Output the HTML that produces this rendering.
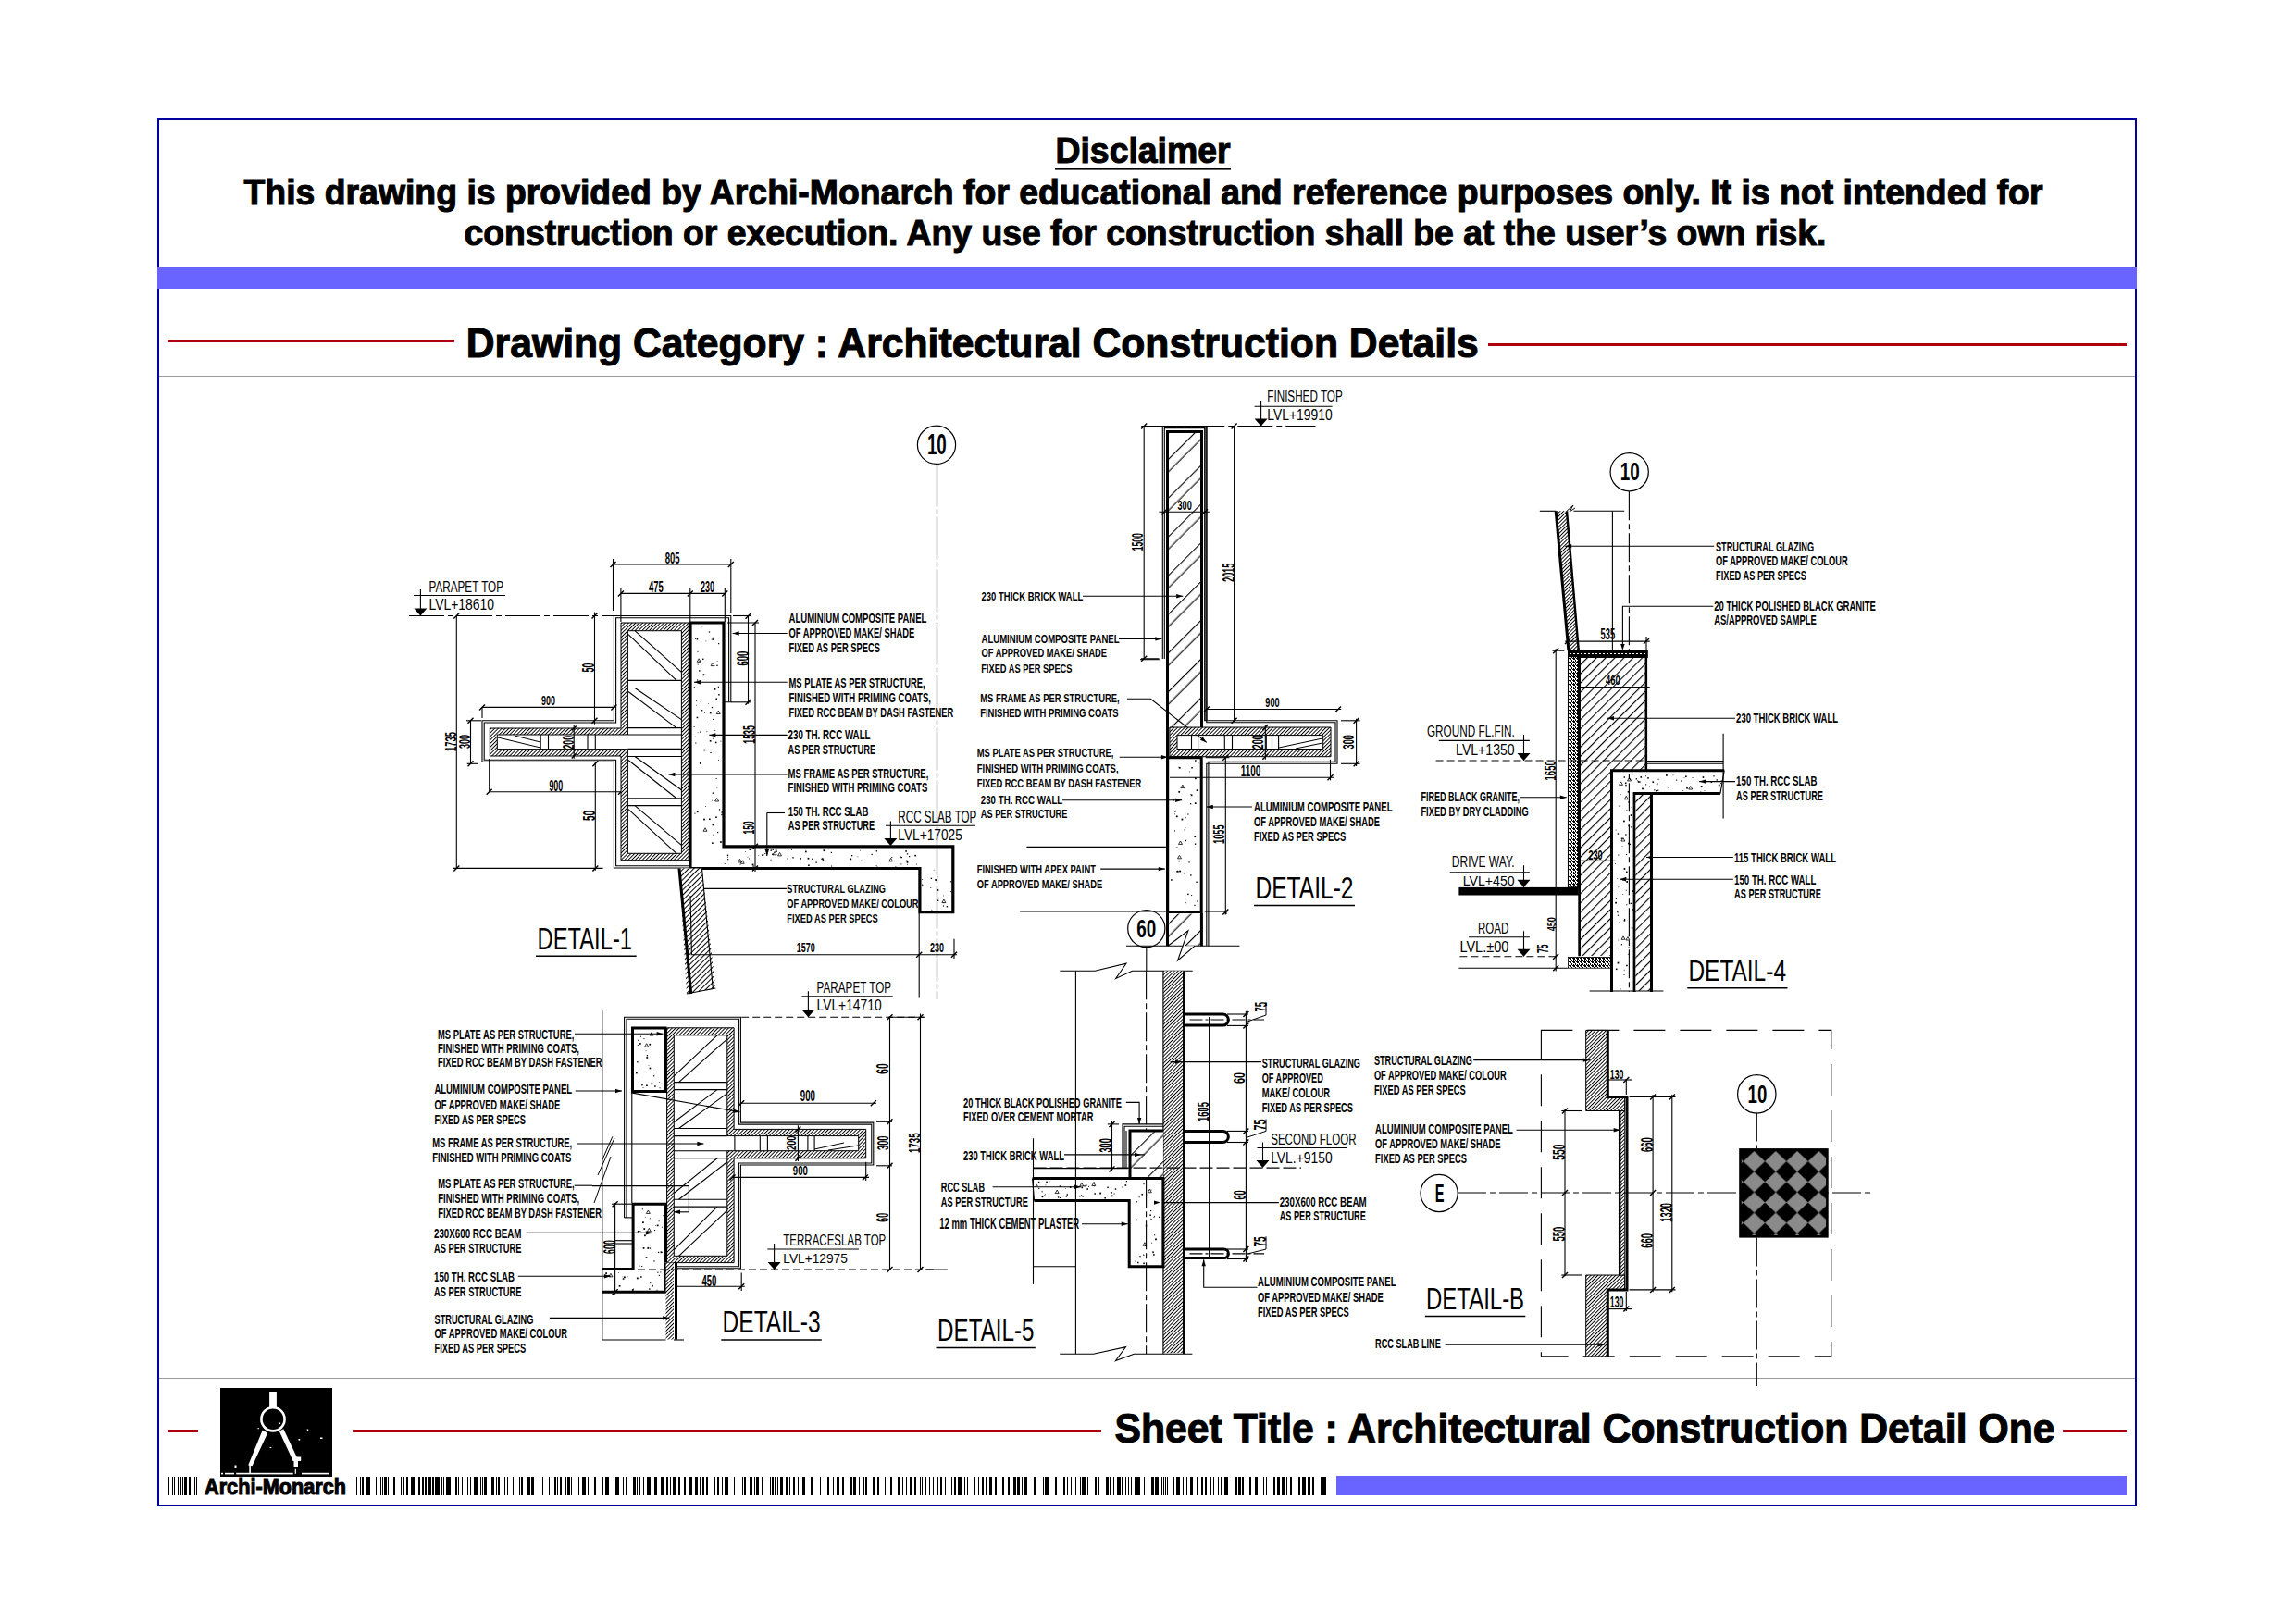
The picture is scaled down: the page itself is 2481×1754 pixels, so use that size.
<!DOCTYPE html>
<html><head><meta charset="utf-8">
<style>
html,body{margin:0;padding:0;background:#fff;width:2481px;height:1754px;overflow:hidden}
svg{position:absolute;left:0;top:0}
.b{font-family:"Liberation Sans",sans-serif;font-weight:bold;fill:#000;stroke:#000;stroke-width:1.1px}
.t{font-family:"Liberation Sans",sans-serif;fill:#000}
.r{font-family:"Liberation Sans",sans-serif;fill:#000}
</style></head><body>
<svg width="2481" height="1754" viewBox="0 0 2481 1754">
<defs>
<pattern id="h3" patternUnits="userSpaceOnUse" width="2.7" height="2.7" patternTransform="rotate(45)"><rect width="2.7" height="2.7" fill="#fff"/><rect x="0" y="0" width="0.95" height="2.7" fill="#000"/></pattern>
<pattern id="h4" patternUnits="userSpaceOnUse" width="3.9" height="3.9" patternTransform="rotate(45)"><rect width="3.9" height="3.9" fill="#fff"/><rect x="0" y="0" width="1" height="3.9" fill="#000"/></pattern>
<pattern id="h5" patternUnits="userSpaceOnUse" width="6" height="6" patternTransform="rotate(45)"><rect width="6" height="6" fill="#fff"/><rect x="0" y="0" width="1" height="6" fill="#000"/></pattern>
<pattern id="hb" patternUnits="userSpaceOnUse" width="29.6" height="29.6" patternTransform="rotate(45)"><rect width="29.6" height="29.6" fill="#fff"/><rect x="0" y="0" width="1.1" height="29.6" fill="#000"/><rect x="9.5" y="0" width="1.1" height="29.6" fill="#000"/></pattern><pattern id="h7" patternUnits="userSpaceOnUse" width="7" height="7" patternTransform="rotate(45)"><rect width="7" height="7" fill="#fff"/><rect x="0" y="0" width="1.1" height="7" fill="#000"/></pattern><pattern id="stip" patternUnits="userSpaceOnUse" width="4" height="4"><rect width="4" height="4" fill="#fff"/><rect x="0" y="0" width="2" height="1" fill="#000"/><rect x="2" y="1" width="1" height="2" fill="#000"/><rect x="0" y="2" width="1" height="2" fill="#000"/><rect x="3" y="3" width="1" height="1" fill="#000"/><rect x="1" y="3" width="1" height="1" fill="#000"/></pattern>
<pattern id="diam" patternUnits="userSpaceOnUse" x="1883.85" y="1244" width="23.3" height="22.2"><rect width="23.3" height="22.2" fill="#000"/><polygon points="11.65,0 23.3,11.1 11.65,22.2 0,11.1" fill="#8a8a8a"/></pattern>
</defs>
<!-- frame -->
<rect x="171" y="129" width="2137" height="1498" fill="none" stroke="#0000A0" stroke-width="2"/>
<rect x="170" y="289" width="2139" height="23" fill="#6964FF"/>
<!-- header text -->
<text class="b" x="1140.5" y="175.6" font-size="39" textLength="189" lengthAdjust="spacingAndGlyphs">Disclaimer</text>
<rect x="1140" y="182" width="190" height="1.6" fill="#000"/>
<text class="b" x="263.5" y="220.6" font-size="39" textLength="1944" lengthAdjust="spacingAndGlyphs">This drawing is provided by Archi-Monarch for educational and reference purposes only. It is not intended for</text>
<text class="b" x="501.5" y="264.6" font-size="39" textLength="1472" lengthAdjust="spacingAndGlyphs">construction or execution. Any use for construction shall be at the user’s own risk.</text>
<!-- category -->
<rect x="181" y="367" width="310" height="3" fill="#B00010"/>
<rect x="1608" y="371" width="690" height="3" fill="#B00010"/>
<text class="b" x="503.8" y="385.6" font-size="45" textLength="1094" lengthAdjust="spacingAndGlyphs">Drawing Category : Architectural Construction Details</text>
<rect x="172" y="406" width="2135" height="1" fill="#9A9A9A"/>
<!-- footer -->
<rect x="172" y="1489" width="2135" height="1" fill="#9A9A9A"/>
<rect x="181" y="1545" width="33" height="3" fill="#B00010"/>
<rect x="381" y="1545" width="809" height="3" fill="#B00010"/>
<rect x="2229" y="1545" width="69" height="3" fill="#B00010"/>
<text class="b" x="1204.5" y="1558.8" font-size="44" textLength="1016" lengthAdjust="spacingAndGlyphs">Sheet Title : Architectural Construction Detail One</text>
<rect x="1444" y="1595" width="854" height="21" fill="#6964FF"/>
<rect x="238" y="1500" width="121" height="96" fill="#000"/>
<text class="b" x="221" y="1615" font-size="24.7" textLength="153" lengthAdjust="spacingAndGlyphs">Archi-Monarch</text>
<g id="draw" stroke-linecap="butt">
<text class="t" x="463.5" y="639.6" font-size="16.86" font-weight="normal" textLength="80.5" lengthAdjust="spacingAndGlyphs">PARAPET TOP</text>
<line x1="447" y1="643.5" x2="546" y2="643.5" stroke="#000" stroke-width="1.1"/>
<text class="t" x="463.5" y="658.8" font-size="17.14" font-weight="normal" textLength="70.5" lengthAdjust="spacingAndGlyphs">LVL+18610</text>
<line x1="454.4" y1="637" x2="454.4" y2="665" stroke="#000" stroke-width="1.1"/>
<polygon points="454.4,665.5 447.4,657.45 461.4,657.45" fill="#000" stroke="none"/>
<line x1="442" y1="665.5" x2="663.4" y2="665.5" stroke="#000" stroke-width="1.1" stroke-dasharray="38 4 6 4"/>
<line x1="493.3" y1="665.5" x2="493.3" y2="938.4" stroke="#000" stroke-width="1.1"/>
<line x1="490.3" y1="668.5" x2="496.3" y2="662.5" stroke="#000" stroke-width="1.4"/>
<line x1="490.3" y1="941.4" x2="496.3" y2="935.4" stroke="#000" stroke-width="1.4"/>
<text class="t" x="0" y="0" font-size="16.81" font-weight="bold" textLength="21" lengthAdjust="spacingAndGlyphs" transform="translate(493,812) rotate(-90)">1735</text>
<line x1="490" y1="938.4" x2="651.6" y2="938.4" stroke="#000" stroke-width="1.1"/>
<line x1="640.3" y1="941.4" x2="646.3" y2="935.4" stroke="#000" stroke-width="1.4"/>
<line x1="508.5" y1="778.8" x2="508.5" y2="825.3" stroke="#000" stroke-width="1.1"/>
<line x1="505.5" y1="781.8" x2="511.5" y2="775.8" stroke="#000" stroke-width="1.4"/>
<line x1="505.5" y1="828.3" x2="511.5" y2="822.3" stroke="#000" stroke-width="1.4"/>
<line x1="504" y1="778.8" x2="520" y2="778.8" stroke="#000" stroke-width="1.1"/>
<line x1="504.7" y1="825.3" x2="516.7" y2="825.3" stroke="#000" stroke-width="1.1"/>
<text class="t" x="0" y="0" font-size="16.05" font-weight="bold" textLength="15" lengthAdjust="spacingAndGlyphs" transform="translate(507.5,809) rotate(-90)">300</text>
<line x1="642.5" y1="661.5" x2="642.5" y2="782.7" stroke="#000" stroke-width="1.1"/>
<line x1="639.5" y1="668.5" x2="645.5" y2="662.5" stroke="#000" stroke-width="1.4"/>
<line x1="639.5" y1="781.8" x2="645.5" y2="775.8" stroke="#000" stroke-width="1.4"/>
<text class="t" x="0" y="0" font-size="18.34" font-weight="bold" textLength="9.8" lengthAdjust="spacingAndGlyphs" transform="translate(642,726.5) rotate(-90)">50</text>
<line x1="643.3" y1="823.4" x2="643.3" y2="940.8" stroke="#000" stroke-width="1.1"/>
<line x1="640.3" y1="828.3" x2="646.3" y2="822.3" stroke="#000" stroke-width="1.4"/>
<text class="t" x="0" y="0" font-size="18.34" font-weight="bold" textLength="11" lengthAdjust="spacingAndGlyphs" transform="translate(643,887) rotate(-90)">50</text>
<line x1="521" y1="764.4" x2="664.7" y2="764.4" stroke="#000" stroke-width="1.1"/>
<line x1="518" y1="767.4" x2="524" y2="761.4" stroke="#000" stroke-width="1.4"/>
<line x1="660.4" y1="767.4" x2="666.4" y2="761.4" stroke="#000" stroke-width="1.4"/>
<line x1="521" y1="764" x2="521" y2="776" stroke="#000" stroke-width="1.1"/>
<text class="t" x="585" y="762" font-size="15.29" font-weight="bold" textLength="15" lengthAdjust="spacingAndGlyphs">900</text>
<line x1="528.7" y1="855.8" x2="671" y2="855.8" stroke="#000" stroke-width="1.1"/>
<line x1="525.7" y1="858.8" x2="531.7" y2="852.8" stroke="#000" stroke-width="1.4"/>
<line x1="668" y1="858.8" x2="674" y2="852.8" stroke="#000" stroke-width="1.4"/>
<line x1="528.7" y1="820" x2="528.7" y2="856" stroke="#000" stroke-width="1.1"/>
<text class="t" x="593.4" y="854.9" font-size="16.81" font-weight="bold" textLength="14.8" lengthAdjust="spacingAndGlyphs">900</text>
<polyline points="745,938 663.4,938 663.4,823.4 521,823.4 521,778.8 663.4,778.8 663.4,665.5 789.8,665.5 789.8,758.8 782.3,758.8" fill="none" stroke="#000" stroke-width="1.1" stroke-linejoin="miter"/>
<polyline points="745,935.8 665.6,935.8 665.6,821.2 523.2,821.2 523.2,781 665.6,781 665.6,667.7 787.6,667.7 787.6,758.8" fill="none" stroke="#000" stroke-width="1.1" stroke-linejoin="miter"/>
<path fill-rule="evenodd" fill="url(#h3)" stroke="#000" stroke-width="1" d="M744.3,673 L671,673 L671,787 L529.3,787 L529.3,817 L671,817 L671,929.7 L744.3,929.7 Z M736.4,681.7 L678.4,681.7 L678.4,794 L537.3,794 L537.3,809.6 L678.4,809.6 L678.4,922.3 L736.4,922.3 Z"/>
<line x1="678.4" y1="735.4" x2="736.4" y2="735.4" stroke="#000" stroke-width="1.1"/>
<line x1="678.4" y1="743.5" x2="736.4" y2="743.5" stroke="#000" stroke-width="1.1"/>
<line x1="678.4" y1="786.6" x2="736.4" y2="786.6" stroke="#000" stroke-width="1.1"/>
<line x1="678.4" y1="794" x2="736.4" y2="794" stroke="#000" stroke-width="1.1"/>
<line x1="678.4" y1="809.4" x2="736.4" y2="809.4" stroke="#000" stroke-width="1.1"/>
<line x1="678.4" y1="817.5" x2="736.4" y2="817.5" stroke="#000" stroke-width="1.1"/>
<line x1="678.4" y1="862.8" x2="736.4" y2="862.8" stroke="#000" stroke-width="1.1"/>
<line x1="678.4" y1="870.6" x2="736.4" y2="870.6" stroke="#000" stroke-width="1.1"/>
<line x1="584.2" y1="794" x2="584.2" y2="809.6" stroke="#000" stroke-width="1.1"/>
<line x1="592.5" y1="794" x2="592.5" y2="809.6" stroke="#000" stroke-width="1.1"/>
<line x1="635" y1="794" x2="635" y2="809.6" stroke="#000" stroke-width="1.1"/>
<line x1="643.3" y1="794" x2="643.3" y2="809.6" stroke="#000" stroke-width="1.1"/>
<line x1="538" y1="797" x2="584" y2="808" stroke="#000" stroke-width="1"/>
<line x1="556" y1="795" x2="584" y2="802" stroke="#000" stroke-width="1"/>
<text class="t" x="0" y="0" font-size="16.81" font-weight="bold" textLength="14.8" lengthAdjust="spacingAndGlyphs" transform="translate(620,809.6) rotate(-90)">200</text>
<line x1="620.2" y1="783.7" x2="620.2" y2="819.7" stroke="#000" stroke-width="1.1"/>
<line x1="617.7" y1="789.5" x2="622.7" y2="784.5" stroke="#000" stroke-width="1.4"/>
<line x1="617.7" y1="819.5" x2="622.7" y2="814.5" stroke="#000" stroke-width="1.4"/>
<line x1="679" y1="685.7" x2="731" y2="735.4" stroke="#000" stroke-width="1.1"/>
<line x1="686" y1="681.7" x2="736.4" y2="726.4" stroke="#000" stroke-width="1.1"/>
<line x1="679" y1="747.5" x2="731" y2="786.6" stroke="#000" stroke-width="1.1"/>
<line x1="686" y1="743.5" x2="736.4" y2="777.6" stroke="#000" stroke-width="1.1"/>
<line x1="679" y1="821.5" x2="731" y2="862.8" stroke="#000" stroke-width="1.1"/>
<line x1="686" y1="817.5" x2="736.4" y2="853.8" stroke="#000" stroke-width="1.1"/>
<line x1="679" y1="874.6" x2="731" y2="922.3" stroke="#000" stroke-width="1.1"/>
<line x1="686" y1="870.6" x2="736.4" y2="913.3" stroke="#000" stroke-width="1.1"/>
<polygon points="746,673 782,673 782,914.8 1029.8,914.8 1029.8,985.7 993.9,985.7 993.9,938.5 746,938.5" fill="none" stroke="#000" stroke-width="3.2" stroke-linejoin="miter"/>
<rect x="759.04" y="711.6" width="1.42" height="1.42" fill="#000"/>
<rect x="751.25" y="802.47" width="1.11" height="1.11" fill="#000"/>
<rect x="750.8" y="795.75" width="0.76" height="0.76" fill="#000"/>
<rect x="762.44" y="692.49" width="0.82" height="0.82" fill="#000"/>
<rect x="762.16" y="871.14" width="0.85" height="0.85" fill="#000"/>
<rect x="755.92" y="824.07" width="1.74" height="1.74" fill="#000"/>
<rect x="766.89" y="769.62" width="1.77" height="1.77" fill="#000"/>
<rect x="750.44" y="878.6" width="1.03" height="1.03" fill="#000"/>
<rect x="753.47" y="703.8" width="1.05" height="1.05" fill="#000"/>
<rect x="774.3" y="718.65" width="1.35" height="1.35" fill="#000"/>
<rect x="768.81" y="763.89" width="1.31" height="1.31" fill="#000"/>
<rect x="750.95" y="690.07" width="0.94" height="0.94" fill="#000"/>
<rect x="770.09" y="776.91" width="1.06" height="1.06" fill="#000"/>
<rect x="767.15" y="782.95" width="1.04" height="1.04" fill="#000"/>
<rect x="773.63" y="840.96" width="0.98" height="0.98" fill="#000"/>
<rect x="766.81" y="799.95" width="1.67" height="1.67" fill="#000"/>
<rect x="771.61" y="743.95" width="1.78" height="1.78" fill="#000"/>
<rect x="752.66" y="774.68" width="1.54" height="1.54" fill="#000"/>
<rect x="753.71" y="791.4" width="0.76" height="0.76" fill="#000"/>
<rect x="769.71" y="856.44" width="1.34" height="1.34" fill="#000"/>
<rect x="776.14" y="750.04" width="1.47" height="1.47" fill="#000"/>
<rect x="767.43" y="812.86" width="1.21" height="1.21" fill="#000"/>
<rect x="775.04" y="898.94" width="1.23" height="1.23" fill="#000"/>
<rect x="769.59" y="690.32" width="1.48" height="1.48" fill="#000"/>
<rect x="769.06" y="910.37" width="1.61" height="1.61" fill="#000"/>
<rect x="757.82" y="767.05" width="1.44" height="1.44" fill="#000"/>
<rect x="749.7" y="784.96" width="0.9" height="0.9" fill="#000"/>
<rect x="752.63" y="689.91" width="1.55" height="1.55" fill="#000"/>
<rect x="753.01" y="734.44" width="1.14" height="1.14" fill="#000"/>
<rect x="776.01" y="695.02" width="1.21" height="1.21" fill="#000"/>
<rect x="766.03" y="884.48" width="1.6" height="1.6" fill="#000"/>
<rect x="775.78" y="741.71" width="1.17" height="1.17" fill="#000"/>
<rect x="760.12" y="884.67" width="1.75" height="1.75" fill="#000"/>
<rect x="753.68" y="717.59" width="0.97" height="0.97" fill="#000"/>
<rect x="756.23" y="790.45" width="1.36" height="1.36" fill="#000"/>
<rect x="757.15" y="676.97" width="1.17" height="1.17" fill="#000"/>
<rect x="760.45" y="809.66" width="1.75" height="1.75" fill="#000"/>
<rect x="770.41" y="797.66" width="1.39" height="1.39" fill="#000"/>
<rect x="769.96" y="688.74" width="1.69" height="1.69" fill="#000"/>
<rect x="773.18" y="882.39" width="1.58" height="1.58" fill="#000"/>
<rect x="761.16" y="770.16" width="0.83" height="0.83" fill="#000"/>
<rect x="768.66" y="690.69" width="0.79" height="0.79" fill="#000"/>
<rect x="755.47" y="714.3" width="1.09" height="1.09" fill="#000"/>
<rect x="750.63" y="676.06" width="0.88" height="0.88" fill="#000"/>
<rect x="752.15" y="761.81" width="0.75" height="0.75" fill="#000"/>
<rect x="776.1" y="820.92" width="0.88" height="0.88" fill="#000"/>
<rect x="756.82" y="757.98" width="1.11" height="1.11" fill="#000"/>
<rect x="752.81" y="876.35" width="1.79" height="1.79" fill="#000"/>
<rect x="763.45" y="790.18" width="0.81" height="0.81" fill="#000"/>
<rect x="752.17" y="756.86" width="1.01" height="1.01" fill="#000"/>
<rect x="774.69" y="714.1" width="0.74" height="0.74" fill="#000"/>
<rect x="778.48" y="800.67" width="0.88" height="0.88" fill="#000"/>
<rect x="765.84" y="682.38" width="1.29" height="1.29" fill="#000"/>
<rect x="779.33" y="879.74" width="1.47" height="1.47" fill="#000"/>
<rect x="757.09" y="762.54" width="0.9" height="0.9" fill="#000"/>
<rect x="772.93" y="801.69" width="1.56" height="1.56" fill="#000"/>
<rect x="759.22" y="728.64" width="1.6" height="1.6" fill="#000"/>
<rect x="779.53" y="877.22" width="1.59" height="1.59" fill="#000"/>
<rect x="774.37" y="850.61" width="0.96" height="0.96" fill="#000"/>
<rect x="765.05" y="759.91" width="0.75" height="0.75" fill="#000"/>
<rect x="749.87" y="741.94" width="1" height="1" fill="#000"/>
<rect x="770.47" y="901.74" width="1.2" height="1.2" fill="#000"/>
<rect x="778.05" y="909.18" width="1.75" height="1.75" fill="#000"/>
<rect x="760.3" y="728.03" width="0.96" height="0.96" fill="#000"/>
<rect x="755.1" y="724.23" width="1.39" height="1.39" fill="#000"/>
<rect x="776.91" y="874.34" width="1.24" height="1.24" fill="#000"/>
<rect x="769.24" y="864.72" width="0.81" height="0.81" fill="#000"/>
<rect x="769.48" y="890.71" width="1.56" height="1.56" fill="#000"/>
<rect x="772.25" y="788.82" width="0.91" height="0.91" fill="#000"/>
<rect x="773.46" y="754.47" width="1.58" height="1.58" fill="#000"/>
<polygon points="776.29,768.04 778.29,771.54 774.29,771.54" fill="none" stroke="#000" stroke-width="0.8"/>
<polygon points="762.03,894.76 764.03,898.26 760.03,898.26" fill="none" stroke="#000" stroke-width="0.8"/>
<polygon points="770.12,716.1 772.12,719.6 768.12,719.6" fill="none" stroke="#000" stroke-width="0.8"/>
<polygon points="755.18,711.76 757.18,715.26 753.18,715.26" fill="none" stroke="#000" stroke-width="0.8"/>
<polygon points="774.62,862.5 776.62,866 772.62,866" fill="none" stroke="#000" stroke-width="0.8"/>
<rect x="812.7" y="933.53" width="1.78" height="1.78" fill="#000"/>
<rect x="920.03" y="924.01" width="1.31" height="1.31" fill="#000"/>
<rect x="809.51" y="917.28" width="1.77" height="1.77" fill="#000"/>
<rect x="918.43" y="927.53" width="1.73" height="1.73" fill="#000"/>
<rect x="873.1" y="934.43" width="1.61" height="1.61" fill="#000"/>
<rect x="826.32" y="922.04" width="1.04" height="1.04" fill="#000"/>
<rect x="832.51" y="928.73" width="1" height="1" fill="#000"/>
<rect x="869.99" y="919.62" width="1.7" height="1.7" fill="#000"/>
<rect x="856.29" y="926.16" width="1.35" height="1.35" fill="#000"/>
<rect x="971.9" y="925.41" width="1.71" height="1.71" fill="#000"/>
<rect x="887.35" y="927.64" width="1.29" height="1.29" fill="#000"/>
<rect x="785.93" y="925.8" width="0.92" height="0.92" fill="#000"/>
<rect x="782.83" y="932.98" width="0.91" height="0.91" fill="#000"/>
<rect x="881.43" y="931.5" width="1.32" height="1.32" fill="#000"/>
<rect x="850.46" y="927.37" width="1.32" height="1.32" fill="#000"/>
<rect x="946.7" y="919.12" width="1.33" height="1.33" fill="#000"/>
<rect x="834.18" y="922.54" width="1.55" height="1.55" fill="#000"/>
<rect x="888.62" y="928.23" width="1.54" height="1.54" fill="#000"/>
<rect x="973.62" y="925.86" width="1.38" height="1.38" fill="#000"/>
<rect x="888.17" y="927.24" width="1.47" height="1.47" fill="#000"/>
<rect x="876.99" y="927.67" width="1.24" height="1.24" fill="#000"/>
<rect x="979.72" y="930.98" width="1.67" height="1.67" fill="#000"/>
<rect x="979.86" y="922.19" width="1.32" height="1.32" fill="#000"/>
<rect x="980.09" y="933.8" width="0.87" height="0.87" fill="#000"/>
<rect x="807.54" y="925.84" width="0.8" height="0.8" fill="#000"/>
<rect x="832.53" y="918.46" width="1.44" height="1.44" fill="#000"/>
<rect x="946.63" y="934.94" width="0.89" height="0.89" fill="#000"/>
<rect x="932.39" y="930.21" width="0.87" height="0.87" fill="#000"/>
<rect x="967.39" y="936.35" width="0.96" height="0.96" fill="#000"/>
<rect x="982.03" y="924.97" width="1.25" height="1.25" fill="#000"/>
<rect x="989.87" y="933.65" width="0.89" height="0.89" fill="#000"/>
<rect x="872.62" y="927.31" width="1.09" height="1.09" fill="#000"/>
<rect x="823.11" y="923.37" width="1.5" height="1.5" fill="#000"/>
<rect x="786.09" y="928.08" width="1.2" height="1.2" fill="#000"/>
<rect x="785.8" y="923.63" width="1.39" height="1.39" fill="#000"/>
<rect x="889.58" y="918.29" width="1.78" height="1.78" fill="#000"/>
<rect x="947.56" y="936.43" width="0.83" height="0.83" fill="#000"/>
<rect x="837.77" y="917.79" width="1.56" height="1.56" fill="#000"/>
<rect x="838.79" y="919.59" width="1.18" height="1.18" fill="#000"/>
<rect x="973.4" y="933.38" width="1" height="1" fill="#000"/>
<rect x="813.37" y="935.38" width="1.34" height="1.34" fill="#000"/>
<rect x="929.09" y="918.79" width="0.78" height="0.78" fill="#000"/>
<rect x="926.52" y="925.51" width="0.8" height="0.8" fill="#000"/>
<rect x="979.05" y="929.69" width="1.59" height="1.59" fill="#000"/>
<rect x="799.59" y="934.12" width="0.79" height="0.79" fill="#000"/>
<rect x="963.18" y="926.08" width="1.09" height="1.09" fill="#000"/>
<rect x="898.14" y="935.53" width="1.01" height="1.01" fill="#000"/>
<rect x="809.14" y="927.54" width="0.98" height="0.98" fill="#000"/>
<rect x="804.98" y="920.23" width="0.77" height="0.77" fill="#000"/>
<rect x="824.37" y="923.24" width="1.05" height="1.05" fill="#000"/>
<rect x="941.49" y="922.8" width="1.26" height="1.26" fill="#000"/>
<rect x="819.36" y="923.94" width="0.74" height="0.74" fill="#000"/>
<rect x="834.59" y="917.31" width="1.51" height="1.51" fill="#000"/>
<rect x="897.72" y="920.79" width="1.23" height="1.23" fill="#000"/>
<rect x="978.27" y="919.13" width="1.6" height="1.6" fill="#000"/>
<rect x="872.76" y="926.9" width="1.62" height="1.62" fill="#000"/>
<rect x="864.55" y="927.13" width="1.46" height="1.46" fill="#000"/>
<rect x="988.31" y="923.85" width="1.62" height="1.62" fill="#000"/>
<rect x="930.41" y="929.72" width="1.16" height="1.16" fill="#000"/>
<rect x="854.99" y="918.09" width="0.86" height="0.86" fill="#000"/>
<polygon points="799.43,928.37 801.43,931.87 797.43,931.87" fill="none" stroke="#000" stroke-width="0.8"/>
<polygon points="837.14,920.29 839.14,923.79 835.14,923.79" fill="none" stroke="#000" stroke-width="0.8"/>
<polygon points="802.23,929.78 804.23,933.28 800.23,933.28" fill="none" stroke="#000" stroke-width="0.8"/>
<polygon points="962.59,927.39 964.59,930.89 960.59,930.89" fill="none" stroke="#000" stroke-width="0.8"/>
<polygon points="842.51,921.39 844.51,924.89 840.51,924.89" fill="none" stroke="#000" stroke-width="0.8"/>
<rect x="1005.38" y="959.13" width="0.89" height="0.89" fill="#000"/>
<rect x="1010.27" y="950.11" width="1.76" height="1.76" fill="#000"/>
<rect x="1027.12" y="963.17" width="0.98" height="0.98" fill="#000"/>
<rect x="1026.9" y="952.24" width="1.11" height="1.11" fill="#000"/>
<rect x="996.03" y="955.55" width="1.23" height="1.23" fill="#000"/>
<rect x="1012.09" y="947.25" width="1.27" height="1.27" fill="#000"/>
<rect x="996.16" y="950.15" width="0.82" height="0.82" fill="#000"/>
<rect x="1008.78" y="939.92" width="0.74" height="0.74" fill="#000"/>
<rect x="1005.74" y="948.71" width="1.35" height="1.35" fill="#000"/>
<rect x="1012.93" y="972.52" width="1.43" height="1.43" fill="#000"/>
<rect x="1018.91" y="978.44" width="1.14" height="1.14" fill="#000"/>
<rect x="1006.44" y="983.3" width="0.88" height="0.88" fill="#000"/>
<rect x="1019.17" y="967.59" width="0.77" height="0.77" fill="#000"/>
<rect x="1022.73" y="979.03" width="1.4" height="1.4" fill="#000"/>
<rect x="1019.48" y="975.36" width="0.87" height="0.87" fill="#000"/>
<rect x="1012.76" y="961.2" width="1.62" height="1.62" fill="#000"/>
<polygon points="1019.92,972.06 1021.92,975.56 1017.92,975.56" fill="none" stroke="#000" stroke-width="0.8"/>
<line x1="662.5" y1="610" x2="789.8" y2="610" stroke="#000" stroke-width="1.1"/>
<line x1="659.5" y1="613" x2="665.5" y2="607" stroke="#000" stroke-width="1.4"/>
<line x1="786.8" y1="613" x2="792.8" y2="607" stroke="#000" stroke-width="1.4"/>
<line x1="662.5" y1="604" x2="662.5" y2="660" stroke="#000" stroke-width="1.1"/>
<line x1="789.8" y1="604" x2="789.8" y2="662" stroke="#000" stroke-width="1.1"/>
<text class="t" x="718.7" y="609" font-size="17.12" font-weight="bold" textLength="15.9" lengthAdjust="spacingAndGlyphs">805</text>
<line x1="670.9" y1="641.4" x2="783.3" y2="641.4" stroke="#000" stroke-width="1.1"/>
<line x1="667.9" y1="644.4" x2="673.9" y2="638.4" stroke="#000" stroke-width="1.4"/>
<line x1="742.8" y1="644.4" x2="748.8" y2="638.4" stroke="#000" stroke-width="1.4"/>
<line x1="780.3" y1="644.4" x2="786.3" y2="638.4" stroke="#000" stroke-width="1.4"/>
<line x1="670.9" y1="636" x2="670.9" y2="672" stroke="#000" stroke-width="1.1"/>
<line x1="745.8" y1="636" x2="745.8" y2="672" stroke="#000" stroke-width="1.1"/>
<line x1="783.3" y1="636" x2="783.3" y2="672" stroke="#000" stroke-width="1.1"/>
<text class="t" x="700.9" y="640" font-size="16.81" font-weight="bold" textLength="15.9" lengthAdjust="spacingAndGlyphs">475</text>
<text class="t" x="757" y="640" font-size="16.81" font-weight="bold" textLength="15" lengthAdjust="spacingAndGlyphs">230</text>
<line x1="808.5" y1="665.8" x2="808.5" y2="760.7" stroke="#000" stroke-width="1.1"/>
<line x1="805.5" y1="668.8" x2="811.5" y2="662.8" stroke="#000" stroke-width="1.4"/>
<line x1="805.5" y1="761.8" x2="811.5" y2="755.8" stroke="#000" stroke-width="1.4"/>
<line x1="792" y1="665.5" x2="812" y2="665.5" stroke="#000" stroke-width="1.1"/>
<line x1="790" y1="758.8" x2="812" y2="758.8" stroke="#000" stroke-width="1.1"/>
<text class="t" x="0" y="0" font-size="19.11" font-weight="bold" textLength="15.9" lengthAdjust="spacingAndGlyphs" transform="translate(808.5,719.5) rotate(-90)">600</text>
<line x1="816" y1="673" x2="816" y2="942" stroke="#000" stroke-width="1.1"/>
<line x1="813" y1="676" x2="819" y2="670" stroke="#000" stroke-width="1.4"/>
<line x1="813" y1="917.8" x2="819" y2="911.8" stroke="#000" stroke-width="1.4"/>
<line x1="813" y1="941.5" x2="819" y2="935.5" stroke="#000" stroke-width="1.4"/>
<line x1="786" y1="673" x2="820" y2="673" stroke="#000" stroke-width="1.1"/>
<text class="t" x="0" y="0" font-size="18.34" font-weight="bold" textLength="19.8" lengthAdjust="spacingAndGlyphs" transform="translate(816,803.8) rotate(-90)">1535</text>
<text class="t" x="0" y="0" font-size="15.9" font-weight="bold" textLength="14.1" lengthAdjust="spacingAndGlyphs" transform="translate(814.8,901.5) rotate(-90)">150</text>
<text class="t" x="852.5" y="673" font-size="14.06" font-weight="bold" textLength="148.9" lengthAdjust="spacingAndGlyphs">ALUMINIUM COMPOSITE PANEL</text>
<text class="t" x="852.5" y="688.6" font-size="14.06" font-weight="bold" textLength="135.8" lengthAdjust="spacingAndGlyphs">OF APPROVED MAKE/ SHADE</text>
<text class="t" x="852.5" y="704.5" font-size="14.06" font-weight="bold" textLength="98.4" lengthAdjust="spacingAndGlyphs">FIXED AS PER SPECS</text>
<line x1="791.7" y1="684.5" x2="850.7" y2="684.5" stroke="#000" stroke-width="1.1"/>
<polygon points="791.7,684.5 798.7,682.3 798.7,686.7" fill="#000" stroke="none"/>
<text class="t" x="852.5" y="743" font-size="14.06" font-weight="bold" textLength="147.1" lengthAdjust="spacingAndGlyphs">MS PLATE AS PER STRUCTURE,</text>
<text class="t" x="852.5" y="758.8" font-size="14.06" font-weight="bold" textLength="153.5" lengthAdjust="spacingAndGlyphs">FINISHED WITH PRIMING COATS,</text>
<text class="t" x="852.5" y="774.8" font-size="14.06" font-weight="bold" textLength="177.9" lengthAdjust="spacingAndGlyphs">FIXED RCC BEAM BY DASH FASTENER</text>
<line x1="750" y1="737.3" x2="850.7" y2="737.3" stroke="#000" stroke-width="1.1"/>
<polygon points="750,737.3 757,735.1 757,739.5" fill="#000" stroke="none"/>
<text class="t" x="851.6" y="798.7" font-size="14.06" font-weight="bold" textLength="89" lengthAdjust="spacingAndGlyphs">230 TH. RCC WALL</text>
<text class="t" x="851.6" y="814.5" font-size="14.06" font-weight="bold" textLength="94.6" lengthAdjust="spacingAndGlyphs">AS PER STRUCTURE</text>
<line x1="766.4" y1="794.4" x2="850.7" y2="794.4" stroke="#000" stroke-width="1.1"/>
<polygon points="766.4,794.4 773.4,792.2 773.4,796.6" fill="#000" stroke="none"/>
<text class="t" x="851.6" y="840.7" font-size="14.06" font-weight="bold" textLength="151.7" lengthAdjust="spacingAndGlyphs">MS FRAME AS PER STRUCTURE,</text>
<text class="t" x="851.6" y="855.8" font-size="14.06" font-weight="bold" textLength="150.7" lengthAdjust="spacingAndGlyphs">FINISHED WITH PRIMING COATS</text>
<line x1="722.4" y1="837" x2="850.7" y2="837" stroke="#000" stroke-width="1.1"/>
<polygon points="722.4,837 729.4,834.8 729.4,839.2" fill="#000" stroke="none"/>
<text class="t" x="851.8" y="881.5" font-size="13.76" font-weight="bold" textLength="86.6" lengthAdjust="spacingAndGlyphs">150 TH. RCC SLAB</text>
<text class="t" x="851.8" y="897" font-size="13.76" font-weight="bold" textLength="93.2" lengthAdjust="spacingAndGlyphs">AS PER STRUCTURE</text>
<line x1="828.8" y1="878.5" x2="828.8" y2="925" stroke="#000" stroke-width="1.1"/>
<line x1="828.8" y1="878.5" x2="848" y2="878.5" stroke="#000" stroke-width="1.1"/>
<polygon points="828.8,925 826.6,918 831,918" fill="#000" stroke="none"/>
<text class="t" x="970.3" y="888.9" font-size="18" font-weight="normal" textLength="85.1" lengthAdjust="spacingAndGlyphs">RCC SLAB TOP</text>
<line x1="957" y1="892.3" x2="1054" y2="892.3" stroke="#000" stroke-width="1.1"/>
<line x1="962.4" y1="887.4" x2="962.4" y2="913.3" stroke="#000" stroke-width="1.1"/>
<polygon points="962.4,914 955.4,905.95 969.4,905.95" fill="#000" stroke="none"/>
<text class="t" x="970.3" y="908.1" font-size="16.86" font-weight="normal" textLength="69.6" lengthAdjust="spacingAndGlyphs">LVL+17025</text>
<text class="t" x="850.3" y="965.1" font-size="13.45" font-weight="bold" textLength="106.7" lengthAdjust="spacingAndGlyphs">STRUCTURAL GLAZING</text>
<text class="t" x="850.3" y="980.7" font-size="13.45" font-weight="bold" textLength="142.2" lengthAdjust="spacingAndGlyphs">OF APPROVED MAKE/ COLOUR</text>
<text class="t" x="850.3" y="997" font-size="13.45" font-weight="bold" textLength="98.5" lengthAdjust="spacingAndGlyphs">FIXED AS PER SPECS</text>
<line x1="743.7" y1="960.4" x2="850.3" y2="960.4" stroke="#000" stroke-width="1.1"/>
<polygon points="743.7,960.4 750.7,958.2 750.7,962.6" fill="#000" stroke="none"/>
<polygon points="734,938.5 758.5,938.5 773.3,1068 742,1074" fill="url(#h4)" stroke="#000" stroke-width="0"/>
<line x1="734" y1="938.5" x2="746.7" y2="1074" stroke="#000" stroke-width="3"/>
<line x1="758.5" y1="938.5" x2="770.3" y2="1068" stroke="#000" stroke-width="1.1"/>
<line x1="746" y1="968" x2="747.4" y2="1031.8" stroke="#000" stroke-width="1.1"/>
<line x1="742" y1="1074" x2="773.3" y2="1068" stroke="#000" stroke-width="1.1"/>
<line x1="746.7" y1="1031.8" x2="1034" y2="1031.8" stroke="#000" stroke-width="1.1"/>
<line x1="990.2" y1="1034.8" x2="996.2" y2="1028.8" stroke="#000" stroke-width="1.4"/>
<line x1="1028" y1="1034.8" x2="1034" y2="1028.8" stroke="#000" stroke-width="1.4"/>
<line x1="993.2" y1="987" x2="993.2" y2="1078.4" stroke="#000" stroke-width="1.1"/>
<line x1="1031" y1="1014.7" x2="1031" y2="1036" stroke="#000" stroke-width="1.1"/>
<text class="t" x="860.7" y="1028.8" font-size="14.98" font-weight="bold" textLength="20" lengthAdjust="spacingAndGlyphs">1570</text>
<text class="t" x="1005" y="1028.8" font-size="14.98" font-weight="bold" textLength="15" lengthAdjust="spacingAndGlyphs">230</text>
<circle cx="1012" cy="480.8" r="20.6" fill="none" stroke="#000" stroke-width="1.2"/>
<text class="t" x="1001.9" y="491" font-size="30.57" font-weight="bold" textLength="20.9" lengthAdjust="spacingAndGlyphs">10</text>
<line x1="1012.5" y1="501.5" x2="1012.5" y2="1080" stroke="#000" stroke-width="1.2" stroke-dasharray="46 3 5 3"/>
<text class="t" x="580.5" y="1025.8" font-size="32.86" font-weight="normal" textLength="102.5" lengthAdjust="spacingAndGlyphs">DETAIL-1</text>
<line x1="579" y1="1033.2" x2="687.7" y2="1033.2" stroke="#000" stroke-width="1.5"/>
<text class="t" x="1369.3" y="433.9" font-size="17.14" font-weight="normal" textLength="81.4" lengthAdjust="spacingAndGlyphs">FINISHED TOP</text>
<line x1="1355.6" y1="439.2" x2="1439.6" y2="439.2" stroke="#000" stroke-width="1.1"/>
<text class="t" x="1369.3" y="453.5" font-size="17.14" font-weight="normal" textLength="70.3" lengthAdjust="spacingAndGlyphs">LVL+19910</text>
<line x1="1362.6" y1="433" x2="1362.6" y2="460" stroke="#000" stroke-width="1.1"/>
<polygon points="1362.6,460.6 1355.6,452.55 1369.6,452.55" fill="#000" stroke="none"/>
<line x1="1233.3" y1="460.6" x2="1421.5" y2="460.6" stroke="#000" stroke-width="1.1" stroke-dasharray="38 4 6 4"/>
<line x1="1236.2" y1="460.6" x2="1236.2" y2="712" stroke="#000" stroke-width="1.1"/>
<line x1="1233.2" y1="463.6" x2="1239.2" y2="457.6" stroke="#000" stroke-width="1.4"/>
<line x1="1233.2" y1="714.8" x2="1239.2" y2="708.8" stroke="#000" stroke-width="1.4"/>
<line x1="1233" y1="711.8" x2="1252.5" y2="711.8" stroke="#000" stroke-width="1.1"/>
<text class="t" x="0" y="0" font-size="16.05" font-weight="bold" textLength="19.1" lengthAdjust="spacingAndGlyphs" transform="translate(1235.3,595.3) rotate(-90)">1500</text>
<line x1="1333.6" y1="460.6" x2="1333.6" y2="780" stroke="#000" stroke-width="1.1"/>
<line x1="1330.6" y1="463.6" x2="1336.6" y2="457.6" stroke="#000" stroke-width="1.4"/>
<line x1="1330.6" y1="781.8" x2="1336.6" y2="775.8" stroke="#000" stroke-width="1.4"/>
<text class="t" x="0" y="0" font-size="17.73" font-weight="bold" textLength="20.1" lengthAdjust="spacingAndGlyphs" transform="translate(1333.6,628.7) rotate(-90)">2015</text>
<polyline points="1256.3,712 1256.3,460.6 1304,460.6 1304,778.8" fill="none" stroke="#000" stroke-width="1.1" stroke-linejoin="miter"/>
<polyline points="1258.3,712 1258.3,462.6 1302,462.6 1302,778.8" fill="none" stroke="#000" stroke-width="1.1" stroke-linejoin="miter"/>
<polygon points="1261.5,466.5 1298.8,466.5 1298.8,786.5 1261.5,786.5" fill="url(#hb)" stroke="#000" stroke-width="0"/>
<polyline points="1261.5,1022 1261.5,466.5 1298.5,466.5 1298.5,786" fill="none" stroke="#000" stroke-width="3" stroke-linejoin="miter"/>
<line x1="1252.4" y1="553.2" x2="1306.9" y2="553.2" stroke="#000" stroke-width="1.1"/>
<line x1="1255" y1="556.2" x2="1261" y2="550.2" stroke="#000" stroke-width="1.4"/>
<line x1="1299" y1="556.2" x2="1305" y2="550.2" stroke="#000" stroke-width="1.4"/>
<text class="t" x="1272.5" y="551.3" font-size="14.52" font-weight="bold" textLength="15.3" lengthAdjust="spacingAndGlyphs">300</text>
<text class="t" x="1060.5" y="648.7" font-size="13.15" font-weight="bold" textLength="109.8" lengthAdjust="spacingAndGlyphs">230 THICK BRICK WALL</text>
<line x1="1170" y1="644.3" x2="1278.2" y2="644.3" stroke="#000" stroke-width="1.1"/>
<polygon points="1278.2,644.3 1271.2,646.5 1271.2,642.1" fill="#000" stroke="none"/>
<text class="t" x="1060.5" y="694.6" font-size="13.15" font-weight="bold" textLength="149" lengthAdjust="spacingAndGlyphs">ALUMINIUM COMPOSITE PANEL</text>
<line x1="1209" y1="690.4" x2="1255.3" y2="690.4" stroke="#000" stroke-width="1.1"/>
<polygon points="1255.3,690.4 1248.3,692.6 1248.3,688.2" fill="#000" stroke="none"/>
<text class="t" x="1060.5" y="710.2" font-size="13.15" font-weight="bold" textLength="135.6" lengthAdjust="spacingAndGlyphs">OF APPROVED MAKE/ SHADE</text>
<text class="t" x="1060.2" y="726.6" font-size="13.15" font-weight="bold" textLength="98.3" lengthAdjust="spacingAndGlyphs">FIXED AS PER SPECS</text>
<line x1="1232" y1="712.7" x2="1252.7" y2="712.7" stroke="#000" stroke-width="1.1"/>
<text class="t" x="1059.2" y="759.4" font-size="13.45" font-weight="bold" textLength="150.5" lengthAdjust="spacingAndGlyphs">MS FRAME AS PER STRUCTURE,</text>
<text class="t" x="1059.2" y="774.7" font-size="13.45" font-weight="bold" textLength="149.4" lengthAdjust="spacingAndGlyphs">FINISHED WITH PRIMING COATS</text>
<polyline points="1217.9,755.3 1243.4,755.3 1303.8,802.4" fill="none" stroke="#000" stroke-width="1.1" stroke-linejoin="miter"/>
<polygon points="1303.8,802.4 1296.93,799.83 1299.63,796.36" fill="#000" stroke="none"/>
<path fill-rule="evenodd" fill="url(#h3)" stroke="#000" stroke-width="1" d="M1263.9,786 L1438,786 L1438,817.7 L1263.9,817.7 Z M1272,794.6 L1429.7,794.6 L1429.7,809.5 L1272,809.5 Z"/>
<line x1="1287.5" y1="794.6" x2="1287.5" y2="809.5" stroke="#000" stroke-width="1.1"/>
<line x1="1294.6" y1="794.6" x2="1294.6" y2="809.5" stroke="#000" stroke-width="1.1"/>
<line x1="1323.3" y1="794.6" x2="1323.3" y2="809.5" stroke="#000" stroke-width="1.1"/>
<line x1="1331.5" y1="794.6" x2="1331.5" y2="809.5" stroke="#000" stroke-width="1.1"/>
<line x1="1368.3" y1="794.6" x2="1368.3" y2="809.5" stroke="#000" stroke-width="1.1"/>
<line x1="1374.5" y1="794.6" x2="1374.5" y2="809.5" stroke="#000" stroke-width="1.1"/>
<line x1="1381.6" y1="794.6" x2="1381.6" y2="809.5" stroke="#000" stroke-width="1.1"/>
<line x1="1382" y1="808" x2="1429" y2="798" stroke="#000" stroke-width="1"/>
<line x1="1400" y1="809" x2="1429" y2="803" stroke="#000" stroke-width="1"/>
<text class="t" x="0" y="0" font-size="15.59" font-weight="bold" textLength="15.5" lengthAdjust="spacingAndGlyphs" transform="translate(1365.2,809.5) rotate(-90)">200</text>
<line x1="1367.3" y1="783" x2="1367.3" y2="820.8" stroke="#000" stroke-width="1.1"/>
<line x1="1364.3" y1="789" x2="1370.3" y2="783" stroke="#000" stroke-width="1.4"/>
<line x1="1364.3" y1="820.7" x2="1370.3" y2="814.7" stroke="#000" stroke-width="1.4"/>
<polyline points="1301.8,460 1301.8,778.8 1445,778.8 1445,825.3 1303.8,825.3 1303.8,1022" fill="none" stroke="#000" stroke-width="1.1" stroke-linejoin="miter"/>
<polyline points="1303.8,462 1303.8,780.8 1443,780.8 1443,823.3 1305.9,823.3 1305.9,1022" fill="none" stroke="#000" stroke-width="1.1" stroke-linejoin="miter"/>
<line x1="1303.8" y1="766.5" x2="1449.2" y2="766.5" stroke="#000" stroke-width="1.1"/>
<line x1="1300.8" y1="769.5" x2="1306.8" y2="763.5" stroke="#000" stroke-width="1.4"/>
<line x1="1443" y1="769.5" x2="1449" y2="763.5" stroke="#000" stroke-width="1.4"/>
<text class="t" x="1367.3" y="763.9" font-size="14.83" font-weight="bold" textLength="15.3" lengthAdjust="spacingAndGlyphs">900</text>
<line x1="1465.6" y1="776.8" x2="1465.6" y2="828" stroke="#000" stroke-width="1.1"/>
<line x1="1462.6" y1="781.8" x2="1468.6" y2="775.8" stroke="#000" stroke-width="1.4"/>
<line x1="1462.6" y1="828.3" x2="1468.6" y2="822.3" stroke="#000" stroke-width="1.4"/>
<line x1="1449" y1="778.8" x2="1469.6" y2="778.8" stroke="#000" stroke-width="1.1"/>
<line x1="1449" y1="825.3" x2="1469.6" y2="825.3" stroke="#000" stroke-width="1.1"/>
<text class="t" x="0" y="0" font-size="16.05" font-weight="bold" textLength="15.5" lengthAdjust="spacingAndGlyphs" transform="translate(1462.5,809.5) rotate(-90)">300</text>
<line x1="1264" y1="840.2" x2="1441" y2="840.2" stroke="#000" stroke-width="1.1"/>
<line x1="1434.5" y1="843.2" x2="1440.5" y2="837.2" stroke="#000" stroke-width="1.4"/>
<line x1="1437.5" y1="820.8" x2="1437.5" y2="843.3" stroke="#000" stroke-width="1.1"/>
<text class="t" x="1340.7" y="839.2" font-size="16.81" font-weight="bold" textLength="21.5" lengthAdjust="spacingAndGlyphs">1100</text>
<polygon points="1261.7,818.7 1298.2,818.7 1298.2,985.5 1261.7,985.5" fill="none" stroke="#000" stroke-width="3" stroke-linejoin="miter"/>
<rect x="1283.11" y="965.64" width="1.46" height="1.46" fill="#000"/>
<rect x="1286.49" y="858.25" width="0.75" height="0.75" fill="#000"/>
<rect x="1269.13" y="879.43" width="0.83" height="0.83" fill="#000"/>
<rect x="1290.91" y="911.48" width="1.4" height="1.4" fill="#000"/>
<rect x="1284.41" y="931.27" width="1.25" height="1.25" fill="#000"/>
<rect x="1265.1" y="950.23" width="1.53" height="1.53" fill="#000"/>
<rect x="1280.59" y="907.7" width="1.43" height="1.43" fill="#000"/>
<rect x="1267.05" y="940.36" width="0.99" height="0.99" fill="#000"/>
<rect x="1267.31" y="864.02" width="1.51" height="1.51" fill="#000"/>
<rect x="1271.36" y="940.85" width="1.77" height="1.77" fill="#000"/>
<rect x="1280.31" y="882.97" width="1.24" height="1.24" fill="#000"/>
<rect x="1286.19" y="945.25" width="1.39" height="1.39" fill="#000"/>
<rect x="1284.93" y="833.55" width="0.88" height="0.88" fill="#000"/>
<rect x="1272.87" y="941.4" width="1.05" height="1.05" fill="#000"/>
<rect x="1282.6" y="823.02" width="0.79" height="0.79" fill="#000"/>
<rect x="1273.33" y="929.86" width="1.47" height="1.47" fill="#000"/>
<rect x="1285.95" y="868.12" width="1.28" height="1.28" fill="#000"/>
<rect x="1279.4" y="896.55" width="0.85" height="0.85" fill="#000"/>
<rect x="1292.7" y="853.28" width="1.78" height="1.78" fill="#000"/>
<rect x="1294.02" y="823.84" width="1.22" height="1.22" fill="#000"/>
<rect x="1290.42" y="977.83" width="1.21" height="1.21" fill="#000"/>
<rect x="1273.33" y="854.99" width="1.74" height="1.74" fill="#000"/>
<rect x="1271.53" y="915.2" width="0.87" height="0.87" fill="#000"/>
<rect x="1281.25" y="975.34" width="0.86" height="0.86" fill="#000"/>
<rect x="1290.43" y="903.42" width="1.68" height="1.68" fill="#000"/>
<rect x="1286.8" y="858.48" width="1.69" height="1.69" fill="#000"/>
<rect x="1280.07" y="825.02" width="0.72" height="0.72" fill="#000"/>
<rect x="1280.24" y="894.02" width="1.05" height="1.05" fill="#000"/>
<rect x="1269.36" y="876.72" width="1.06" height="1.06" fill="#000"/>
<rect x="1291.05" y="821.28" width="1.53" height="1.53" fill="#000"/>
<rect x="1291.01" y="840.45" width="1.72" height="1.72" fill="#000"/>
<rect x="1287.1" y="967.05" width="1.03" height="1.03" fill="#000"/>
<rect x="1276.54" y="884.65" width="1.8" height="1.8" fill="#000"/>
<rect x="1283.26" y="879.43" width="1.18" height="1.18" fill="#000"/>
<rect x="1273.53" y="828.82" width="0.83" height="0.83" fill="#000"/>
<rect x="1290.87" y="867.27" width="1.73" height="1.73" fill="#000"/>
<rect x="1272.73" y="864.05" width="1.27" height="1.27" fill="#000"/>
<rect x="1270.89" y="881.48" width="1.75" height="1.75" fill="#000"/>
<rect x="1292.41" y="952.54" width="1.4" height="1.4" fill="#000"/>
<rect x="1293.32" y="973.39" width="1.31" height="1.31" fill="#000"/>
<rect x="1287.31" y="829.02" width="1.51" height="1.51" fill="#000"/>
<rect x="1278.98" y="942.93" width="1.42" height="1.42" fill="#000"/>
<rect x="1273.87" y="828.93" width="1.72" height="1.72" fill="#000"/>
<rect x="1268.95" y="897.49" width="1.09" height="1.09" fill="#000"/>
<rect x="1274.23" y="940.72" width="1.77" height="1.77" fill="#000"/>
<polygon points="1274.5,924.34 1276.5,927.84 1272.5,927.84" fill="none" stroke="#000" stroke-width="0.8"/>
<polygon points="1275.52,908.94 1277.52,912.44 1273.52,912.44" fill="none" stroke="#000" stroke-width="0.8"/>
<polygon points="1277.86,848.1 1279.86,851.6 1275.86,851.6" fill="none" stroke="#000" stroke-width="0.8"/>
<line x1="1324.3" y1="818.7" x2="1324.3" y2="988.6" stroke="#000" stroke-width="1.1"/>
<line x1="1321.3" y1="821.7" x2="1327.3" y2="815.7" stroke="#000" stroke-width="1.4"/>
<line x1="1321.3" y1="988.5" x2="1327.3" y2="982.5" stroke="#000" stroke-width="1.4"/>
<line x1="1302.8" y1="818.7" x2="1328.4" y2="818.7" stroke="#000" stroke-width="1.1"/>
<line x1="1301.8" y1="985" x2="1326.4" y2="985" stroke="#000" stroke-width="1.1"/>
<text class="t" x="0" y="0" font-size="15.74" font-weight="bold" textLength="20.5" lengthAdjust="spacingAndGlyphs" transform="translate(1323.3,911.9) rotate(-90)">1055</text>
<text class="t" x="1055.7" y="818.3" font-size="13.45" font-weight="bold" textLength="147.8" lengthAdjust="spacingAndGlyphs">MS PLATE AS PER STRUCTURE,</text>
<text class="t" x="1055.7" y="834.5" font-size="13.45" font-weight="bold" textLength="152.9" lengthAdjust="spacingAndGlyphs">FINISHED WITH PRIMING COATS,</text>
<text class="t" x="1055.7" y="850.5" font-size="13.45" font-weight="bold" textLength="177.5" lengthAdjust="spacingAndGlyphs">FIXED RCC BEAM BY DASH FASTENER</text>
<line x1="1209.7" y1="818.3" x2="1261.9" y2="818.3" stroke="#000" stroke-width="1.1"/>
<polygon points="1261.9,818.3 1254.9,820.5 1254.9,816.1" fill="#000" stroke="none"/>
<text class="t" x="1059.8" y="868.9" font-size="13.45" font-weight="bold" textLength="88.5" lengthAdjust="spacingAndGlyphs">230 TH. RCC WALL</text>
<text class="t" x="1059.8" y="884.2" font-size="13.45" font-weight="bold" textLength="93.6" lengthAdjust="spacingAndGlyphs">AS PER STRUCTURE</text>
<line x1="1148" y1="864.8" x2="1277.2" y2="864.8" stroke="#000" stroke-width="1.1"/>
<polygon points="1277.2,864.8 1270.2,867 1270.2,862.6" fill="#000" stroke="none"/>
<line x1="1109.4" y1="915.4" x2="1259.8" y2="915.4" stroke="#000" stroke-width="1.1"/>
<text class="t" x="1055.7" y="943.6" font-size="13.45" font-weight="bold" textLength="128.3" lengthAdjust="spacingAndGlyphs">FINISHED WITH APEX PAINT</text>
<text class="t" x="1055.7" y="959.6" font-size="13.45" font-weight="bold" textLength="135.5" lengthAdjust="spacingAndGlyphs">OF APPROVED MAKE/ SHADE</text>
<line x1="1189.2" y1="939.1" x2="1258.8" y2="939.1" stroke="#000" stroke-width="1.1"/>
<polygon points="1258.8,939.1 1251.8,941.3 1251.8,936.9" fill="#000" stroke="none"/>
<line x1="1102.2" y1="985" x2="1260.9" y2="985" stroke="#000" stroke-width="1.1"/>
<text class="t" x="1355" y="877" font-size="13.76" font-weight="bold" textLength="149.5" lengthAdjust="spacingAndGlyphs">ALUMINIUM COMPOSITE PANEL</text>
<text class="t" x="1355" y="893.4" font-size="13.76" font-weight="bold" textLength="136.1" lengthAdjust="spacingAndGlyphs">OF APPROVED MAKE/ SHADE</text>
<text class="t" x="1355" y="909.2" font-size="13.76" font-weight="bold" textLength="99.3" lengthAdjust="spacingAndGlyphs">FIXED AS PER SPECS</text>
<line x1="1353" y1="872" x2="1303.8" y2="872" stroke="#000" stroke-width="1.1"/>
<polygon points="1303.8,872 1310.8,869.8 1310.8,874.2" fill="#000" stroke="none"/>
<text class="t" x="1356.4" y="970.6" font-size="32.86" font-weight="normal" textLength="106.1" lengthAdjust="spacingAndGlyphs">DETAIL-2</text>
<line x1="1355" y1="978.4" x2="1464" y2="978.4" stroke="#000" stroke-width="1.5"/>
<polygon points="1261.5,987.5 1298.5,987.5 1298.5,1022 1261.5,1022" fill="url(#hb)" stroke="#000" stroke-width="0"/>
<polyline points="1261.5,987 1261.5,1022.2" fill="none" stroke="#000" stroke-width="3" stroke-linejoin="miter"/>
<polyline points="1298.4,987 1298.4,1022.2" fill="none" stroke="#000" stroke-width="3" stroke-linejoin="miter"/>
<line x1="1217" y1="1022.2" x2="1339.5" y2="1022.2" stroke="#000" stroke-width="1.1"/>
<polygon points="1272.6,1038 1283.9,1005.8 1280,1022.2 1291.2,1022.2" fill="#fff" stroke="none"/>
<polyline points="1262,1022.2 1283.9,1005.8 1272.6,1038 1291.2,1022.2" fill="none" stroke="#000" stroke-width="1.1" stroke-linejoin="miter"/>
<circle cx="1238.8" cy="1003.6" r="20.1" fill="none" stroke="#000" stroke-width="1.2"/>
<text class="t" x="1228.3" y="1013" font-size="27.51" font-weight="bold" textLength="21" lengthAdjust="spacingAndGlyphs">60</text>
<line x1="1238.8" y1="1023.5" x2="1238.8" y2="1049.3" stroke="#000" stroke-width="1.1"/>
<line x1="1325" y1="985.6" x2="1325" y2="988" stroke="#000" stroke-width="1.1"/>
<text class="t" x="882.5" y="1072.6" font-size="16.86" font-weight="normal" textLength="80.6" lengthAdjust="spacingAndGlyphs">PARAPET TOP</text>
<line x1="866.4" y1="1076.9" x2="964.7" y2="1076.9" stroke="#000" stroke-width="1.1"/>
<text class="t" x="882.5" y="1092.2" font-size="17.14" font-weight="normal" textLength="70.1" lengthAdjust="spacingAndGlyphs">LVL+14710</text>
<line x1="873.4" y1="1071.3" x2="873.4" y2="1098.7" stroke="#000" stroke-width="1.1"/>
<polygon points="873.4,1099.2 866.4,1091.15 880.4,1091.15" fill="#000" stroke="none"/>
<line x1="801.2" y1="1099.2" x2="998.6" y2="1099.2" stroke="#000" stroke-width="1.1" stroke-dasharray="8 4"/>
<line x1="960" y1="1099.2" x2="998.7" y2="1099.2" stroke="#000" stroke-width="1.1"/>
<line x1="958.5" y1="1102.2" x2="964.5" y2="1096.2" stroke="#000" stroke-width="1.4"/>
<line x1="991.5" y1="1102.2" x2="997.5" y2="1096.2" stroke="#000" stroke-width="1.4"/>
<line x1="961.5" y1="1099.2" x2="961.5" y2="1372" stroke="#000" stroke-width="1.1"/>
<line x1="958.5" y1="1215.3" x2="964.5" y2="1209.3" stroke="#000" stroke-width="1.4"/>
<line x1="958.5" y1="1262.8" x2="964.5" y2="1256.8" stroke="#000" stroke-width="1.4"/>
<line x1="958.5" y1="1375" x2="964.5" y2="1369" stroke="#000" stroke-width="1.4"/>
<line x1="947" y1="1212.3" x2="964" y2="1212.3" stroke="#000" stroke-width="1.1"/>
<line x1="947" y1="1259.8" x2="964" y2="1259.8" stroke="#000" stroke-width="1.1"/>
<text class="t" x="0" y="0" font-size="18.65" font-weight="bold" textLength="11.3" lengthAdjust="spacingAndGlyphs" transform="translate(960,1160.7) rotate(-90)">60</text>
<text class="t" x="0" y="0" font-size="16.2" font-weight="bold" textLength="15.4" lengthAdjust="spacingAndGlyphs" transform="translate(960,1243) rotate(-90)">300</text>
<line x1="994.5" y1="1095.5" x2="994.5" y2="1372" stroke="#000" stroke-width="1.1"/>
<line x1="991.5" y1="1375" x2="997.5" y2="1369" stroke="#000" stroke-width="1.4"/>
<text class="t" x="0" y="0" font-size="15.9" font-weight="bold" textLength="21.7" lengthAdjust="spacingAndGlyphs" transform="translate(993.7,1246.1) rotate(-90)">1735</text>
<text class="t" x="0" y="0" font-size="18.65" font-weight="bold" textLength="9.7" lengthAdjust="spacingAndGlyphs" transform="translate(959.8,1320.7) rotate(-90)">60</text>
<polyline points="674.6,1315.9 674.6,1099.2 800.4,1099.2 800.4,1213.1 943.8,1213.1 943.8,1259 800.4,1259 800.4,1370.7 730.5,1370.7" fill="none" stroke="#000" stroke-width="1.1" stroke-linejoin="miter"/>
<polyline points="677,1315.9 677,1101.3 798.4,1101.3 798.4,1215.1 941.8,1215.1 941.8,1257 798.4,1257 798.4,1368.7 730.5,1368.7" fill="none" stroke="#000" stroke-width="1.1" stroke-linejoin="miter"/>
<line x1="674.6" y1="1315.9" x2="684" y2="1315.9" stroke="#000" stroke-width="1.1"/>
<path fill-rule="evenodd" fill="url(#h3)" stroke="#000" stroke-width="1" d="M720.6,1110.8 L793.1,1110.8 L793.1,1220.4 L935.7,1220.4 L935.7,1251.8 L793.1,1251.8 L793.1,1364.6 L720.6,1364.6 Z M728.3,1118.8 L785.8,1118.8 L785.8,1227.6 L927.7,1227.6 L927.7,1243.7 L785.8,1243.7 L785.8,1357.3 L728.3,1357.3 Z"/>
<line x1="728.3" y1="1169.6" x2="785.8" y2="1169.6" stroke="#000" stroke-width="1.1"/>
<line x1="728.3" y1="1177.6" x2="785.8" y2="1177.6" stroke="#000" stroke-width="1.1"/>
<line x1="728.3" y1="1219.5" x2="785.8" y2="1219.5" stroke="#000" stroke-width="1.1"/>
<line x1="728.3" y1="1227.6" x2="785.8" y2="1227.6" stroke="#000" stroke-width="1.1"/>
<line x1="728.3" y1="1243.7" x2="785.8" y2="1243.7" stroke="#000" stroke-width="1.1"/>
<line x1="728.3" y1="1251.8" x2="785.8" y2="1251.8" stroke="#000" stroke-width="1.1"/>
<line x1="728.3" y1="1296.3" x2="785.8" y2="1296.3" stroke="#000" stroke-width="1.1"/>
<line x1="728.3" y1="1304.1" x2="785.8" y2="1304.1" stroke="#000" stroke-width="1.1"/>
<line x1="793.9" y1="1227.6" x2="793.9" y2="1243.7" stroke="#000" stroke-width="1.1"/>
<line x1="821.3" y1="1227.6" x2="821.3" y2="1243.7" stroke="#000" stroke-width="1.1"/>
<line x1="829.4" y1="1227.6" x2="829.4" y2="1243.7" stroke="#000" stroke-width="1.1"/>
<line x1="872.9" y1="1227.6" x2="872.9" y2="1243.7" stroke="#000" stroke-width="1.1"/>
<line x1="880.1" y1="1227.6" x2="880.1" y2="1243.7" stroke="#000" stroke-width="1.1"/>
<line x1="880" y1="1242" x2="912" y2="1235" stroke="#000" stroke-width="1"/>
<line x1="895" y1="1243" x2="927" y2="1238" stroke="#000" stroke-width="1"/>
<text class="t" x="0" y="0" font-size="14.83" font-weight="bold" textLength="15.4" lengthAdjust="spacingAndGlyphs" transform="translate(860,1243) rotate(-90)">200</text>
<line x1="862.4" y1="1216.3" x2="862.4" y2="1255" stroke="#000" stroke-width="1.1"/>
<line x1="859.4" y1="1223.4" x2="865.4" y2="1217.4" stroke="#000" stroke-width="1.4"/>
<line x1="859.4" y1="1254.8" x2="865.4" y2="1248.8" stroke="#000" stroke-width="1.4"/>
<line x1="728.6" y1="1162.6" x2="775" y2="1118.8" stroke="#000" stroke-width="1.1"/>
<line x1="733.5" y1="1169.6" x2="785.8" y2="1122.8" stroke="#000" stroke-width="1.1"/>
<line x1="728.6" y1="1212.5" x2="775" y2="1177.6" stroke="#000" stroke-width="1.1"/>
<line x1="733.5" y1="1219.5" x2="785.8" y2="1181.6" stroke="#000" stroke-width="1.1"/>
<line x1="728.6" y1="1289.3" x2="775" y2="1251.8" stroke="#000" stroke-width="1.1"/>
<line x1="733.5" y1="1296.3" x2="785.8" y2="1255.8" stroke="#000" stroke-width="1.1"/>
<line x1="728.6" y1="1350.3" x2="775" y2="1304.1" stroke="#000" stroke-width="1.1"/>
<line x1="733.5" y1="1357.3" x2="785.8" y2="1308.1" stroke="#000" stroke-width="1.1"/>
<rect x="683.5" y="1111" width="35.5" height="68.5" fill="none" stroke="#000" stroke-width="3"/>
<rect x="691.01" y="1127.1" width="1.7" height="1.7" fill="#000"/>
<rect x="701.41" y="1127.86" width="1.7" height="1.7" fill="#000"/>
<rect x="716.89" y="1142.35" width="0.87" height="0.87" fill="#000"/>
<rect x="691.96" y="1119.72" width="1.09" height="1.09" fill="#000"/>
<rect x="688.82" y="1129.06" width="1" height="1" fill="#000"/>
<rect x="703.66" y="1169.9" width="1.53" height="1.53" fill="#000"/>
<rect x="698.8" y="1140.07" width="1.29" height="1.29" fill="#000"/>
<rect x="697.68" y="1135.31" width="0.79" height="0.79" fill="#000"/>
<rect x="694.6" y="1174.96" width="0.86" height="0.86" fill="#000"/>
<rect x="701.61" y="1153.67" width="1.65" height="1.65" fill="#000"/>
<rect x="692.69" y="1131.07" width="0.99" height="0.99" fill="#000"/>
<rect x="698.39" y="1142.09" width="1.75" height="1.75" fill="#000"/>
<rect x="712.31" y="1168.99" width="0.74" height="0.74" fill="#000"/>
<rect x="687" y="1158.7" width="1.69" height="1.69" fill="#000"/>
<rect x="700.67" y="1150.99" width="0.72" height="0.72" fill="#000"/>
<rect x="698.14" y="1172.39" width="1.61" height="1.61" fill="#000"/>
<rect x="712.52" y="1175.25" width="0.99" height="0.99" fill="#000"/>
<rect x="689.38" y="1123.73" width="1.28" height="1.28" fill="#000"/>
<rect x="707.14" y="1173.31" width="1.5" height="1.5" fill="#000"/>
<rect x="706.07" y="1162.18" width="1.21" height="1.21" fill="#000"/>
<rect x="703.1" y="1116.49" width="1.56" height="1.56" fill="#000"/>
<rect x="693.21" y="1171.95" width="1.42" height="1.42" fill="#000"/>
<rect x="695.42" y="1122.06" width="0.99" height="0.99" fill="#000"/>
<rect x="705.73" y="1158.01" width="0.84" height="0.84" fill="#000"/>
<rect x="688.18" y="1147.04" width="1.35" height="1.35" fill="#000"/>
<polygon points="698.7,1127.74 700.7,1131.24 696.7,1131.24" fill="none" stroke="#000" stroke-width="0.8"/>
<polygon points="704.03,1115.6 706.03,1119.1 702.03,1119.1" fill="none" stroke="#000" stroke-width="0.8"/>
<line x1="682.8" y1="1180" x2="682.8" y2="1300" stroke="#000" stroke-width="1.1"/>
<line x1="681.9" y1="1180.9" x2="799.5" y2="1201.8" stroke="#000" stroke-width="1.1"/>
<polygon points="799.5,1201.8 792.22,1202.74 792.99,1198.41" fill="#000" stroke="none"/>
<line x1="799.5" y1="1192.2" x2="947" y2="1192.2" stroke="#000" stroke-width="1.1"/>
<line x1="798.2" y1="1195.2" x2="804.2" y2="1189.2" stroke="#000" stroke-width="1.4"/>
<line x1="940.8" y1="1195.2" x2="946.8" y2="1189.2" stroke="#000" stroke-width="1.4"/>
<text class="t" x="864.8" y="1189.7" font-size="15.9" font-weight="bold" textLength="16.2" lengthAdjust="spacingAndGlyphs">900</text>
<line x1="791.5" y1="1272.4" x2="939" y2="1272.4" stroke="#000" stroke-width="1.1"/>
<line x1="788.5" y1="1275.4" x2="794.5" y2="1269.4" stroke="#000" stroke-width="1.4"/>
<line x1="931.9" y1="1275.4" x2="937.9" y2="1269.4" stroke="#000" stroke-width="1.4"/>
<line x1="935.7" y1="1255.8" x2="935.7" y2="1276" stroke="#000" stroke-width="1.1"/>
<text class="t" x="856.8" y="1270.3" font-size="14.83" font-weight="bold" textLength="16.1" lengthAdjust="spacingAndGlyphs">900</text>
<line x1="650.8" y1="1092.3" x2="650.8" y2="1448" stroke="#000" stroke-width="1.1"/>
<text class="t" x="473" y="1122.5" font-size="15.29" font-weight="bold" textLength="147.3" lengthAdjust="spacingAndGlyphs">MS PLATE AS PER STRUCTURE,</text>
<text class="t" x="473" y="1137.6" font-size="15.29" font-weight="bold" textLength="153" lengthAdjust="spacingAndGlyphs">FINISHED WITH PRIMING COATS,</text>
<text class="t" x="473" y="1153.4" font-size="15.29" font-weight="bold" textLength="177.5" lengthAdjust="spacingAndGlyphs">FIXED RCC BEAM BY DASH FASTENER</text>
<line x1="621" y1="1117.2" x2="716.6" y2="1117.2" stroke="#000" stroke-width="1.1"/>
<polygon points="716.6,1117.2 709.6,1119.4 709.6,1115" fill="#000" stroke="none"/>
<text class="t" x="469.4" y="1182.4" font-size="15.29" font-weight="bold" textLength="148.8" lengthAdjust="spacingAndGlyphs">ALUMINIUM COMPOSITE PANEL</text>
<text class="t" x="469.4" y="1198.7" font-size="15.29" font-weight="bold" textLength="135.8" lengthAdjust="spacingAndGlyphs">OF APPROVED MAKE/ SHADE</text>
<text class="t" x="469.4" y="1214.5" font-size="15.29" font-weight="bold" textLength="98.5" lengthAdjust="spacingAndGlyphs">FIXED AS PER SPECS</text>
<line x1="621.7" y1="1179" x2="672" y2="1179" stroke="#000" stroke-width="1.1"/>
<polygon points="672,1179 665,1181.2 665,1176.8" fill="#000" stroke="none"/>
<text class="t" x="467.2" y="1240.4" font-size="15.29" font-weight="bold" textLength="151" lengthAdjust="spacingAndGlyphs">MS FRAME AS PER STRUCTURE,</text>
<text class="t" x="467.2" y="1256.2" font-size="15.29" font-weight="bold" textLength="150.2" lengthAdjust="spacingAndGlyphs">FINISHED WITH PRIMING COATS</text>
<line x1="623.2" y1="1236" x2="760.4" y2="1236" stroke="#000" stroke-width="1.1"/>
<polygon points="760.4,1236 753.4,1238.2 753.4,1233.8" fill="#000" stroke="none"/>
<line x1="661.8" y1="1228.4" x2="650.5" y2="1254.2" stroke="#000" stroke-width="1"/>
<line x1="664" y1="1230" x2="646" y2="1270" stroke="#000" stroke-width="1"/>
<line x1="640" y1="1281.6" x2="744.4" y2="1281.6" stroke="#000" stroke-width="1.1"/>
<line x1="744.4" y1="1281.6" x2="744.4" y2="1309.8" stroke="#000" stroke-width="1.1"/>
<line x1="744.4" y1="1309.8" x2="728" y2="1309.8" stroke="#000" stroke-width="1.1"/>
<polygon points="728,1309.8 735,1307.6 735,1312" fill="#000" stroke="none"/>
<text class="t" x="473.2" y="1284.1" font-size="14.67" font-weight="bold" textLength="147.5" lengthAdjust="spacingAndGlyphs">MS PLATE AS PER STRUCTURE,</text>
<text class="t" x="473.2" y="1300" font-size="14.67" font-weight="bold" textLength="152.9" lengthAdjust="spacingAndGlyphs">FINISHED WITH PRIMING COATS,</text>
<text class="t" x="473.2" y="1315.9" font-size="14.67" font-weight="bold" textLength="176.8" lengthAdjust="spacingAndGlyphs">FIXED RCC BEAM BY DASH FASTENER</text>
<line x1="620.7" y1="1281.2" x2="640" y2="1281.2" stroke="#000" stroke-width="1.1"/>
<line x1="642" y1="1300" x2="660" y2="1250" stroke="#000" stroke-width="1"/>
<polyline points="719.5,1364.6 719.5,1396.3 650,1396.3" fill="none" stroke="#000" stroke-width="3" stroke-linejoin="miter"/>
<polyline points="650,1371.5 684.1,1371.5 684.1,1301.2 719.5,1301.2 719.5,1364.6" fill="none" stroke="#000" stroke-width="3" stroke-linejoin="miter"/>
<rect x="696.05" y="1334.41" width="1.76" height="1.76" fill="#000"/>
<rect x="706.34" y="1362.33" width="1.23" height="1.23" fill="#000"/>
<rect x="694.04" y="1320.31" width="1.76" height="1.76" fill="#000"/>
<rect x="708.14" y="1324.29" width="0.74" height="0.74" fill="#000"/>
<rect x="701.95" y="1348.51" width="1.17" height="1.17" fill="#000"/>
<rect x="694.72" y="1348.05" width="1.72" height="1.72" fill="#000"/>
<rect x="693.8" y="1306.25" width="1.09" height="1.09" fill="#000"/>
<rect x="699.62" y="1349.05" width="0.93" height="0.93" fill="#000"/>
<rect x="710.91" y="1352.78" width="1.27" height="1.27" fill="#000"/>
<rect x="693.16" y="1368.01" width="1.06" height="1.06" fill="#000"/>
<rect x="711.6" y="1319.23" width="0.96" height="0.96" fill="#000"/>
<rect x="709.81" y="1323.47" width="1.75" height="1.75" fill="#000"/>
<rect x="701.87" y="1316.36" width="0.96" height="0.96" fill="#000"/>
<rect x="699.51" y="1347.91" width="1.74" height="1.74" fill="#000"/>
<rect x="691.39" y="1329.97" width="0.95" height="0.95" fill="#000"/>
<rect x="716.22" y="1313.37" width="0.78" height="0.78" fill="#000"/>
<rect x="688.8" y="1329.96" width="1.69" height="1.69" fill="#000"/>
<rect x="713.51" y="1352.36" width="1.8" height="1.8" fill="#000"/>
<rect x="714.95" y="1325.73" width="0.92" height="0.92" fill="#000"/>
<rect x="715.08" y="1353.26" width="0.75" height="0.75" fill="#000"/>
<rect x="706.93" y="1328.99" width="1.12" height="1.12" fill="#000"/>
<rect x="696.95" y="1315.17" width="0.72" height="0.72" fill="#000"/>
<rect x="695.39" y="1327.2" width="1.75" height="1.75" fill="#000"/>
<rect x="690.71" y="1367.64" width="0.94" height="0.94" fill="#000"/>
<rect x="697.7" y="1358.22" width="1.61" height="1.61" fill="#000"/>
<polygon points="700.38,1307.96 702.38,1311.46 698.38,1311.46" fill="none" stroke="#000" stroke-width="0.8"/>
<polygon points="701.36,1327.36 703.36,1330.86 699.36,1330.86" fill="none" stroke="#000" stroke-width="0.8"/>
<rect x="711.77" y="1377.86" width="1.11" height="1.11" fill="#000"/>
<rect x="710.3" y="1374.61" width="1.16" height="1.16" fill="#000"/>
<rect x="704.77" y="1389.33" width="0.76" height="0.76" fill="#000"/>
<rect x="654.27" y="1375.25" width="1.71" height="1.71" fill="#000"/>
<rect x="668.71" y="1388.95" width="1.69" height="1.69" fill="#000"/>
<rect x="674.04" y="1379.45" width="1.75" height="1.75" fill="#000"/>
<rect x="692.1" y="1379.24" width="1.49" height="1.49" fill="#000"/>
<rect x="672.57" y="1379.51" width="0.72" height="0.72" fill="#000"/>
<rect x="701.12" y="1392.33" width="1.4" height="1.4" fill="#000"/>
<rect x="713.31" y="1374.49" width="0.97" height="0.97" fill="#000"/>
<rect x="682.89" y="1393.14" width="1.75" height="1.75" fill="#000"/>
<rect x="677.12" y="1379.02" width="1.18" height="1.18" fill="#000"/>
<rect x="684.08" y="1392.56" width="0.92" height="0.92" fill="#000"/>
<rect x="704.17" y="1388.77" width="1.61" height="1.61" fill="#000"/>
<rect x="702.23" y="1386.15" width="1.07" height="1.07" fill="#000"/>
<rect x="672.77" y="1381.24" width="1.56" height="1.56" fill="#000"/>
<rect x="657.14" y="1377.95" width="1.53" height="1.53" fill="#000"/>
<rect x="668.07" y="1375.29" width="0.76" height="0.76" fill="#000"/>
<rect x="687.92" y="1380.52" width="1.78" height="1.78" fill="#000"/>
<rect x="709.43" y="1393.76" width="1.01" height="1.01" fill="#000"/>
<polygon points="659.96,1376.35 661.96,1379.85 657.96,1379.85" fill="none" stroke="#000" stroke-width="0.8"/>
<line x1="730.5" y1="1364.6" x2="730.5" y2="1447.6" stroke="#000" stroke-width="3"/>
<polygon points="719.5,1364.6 728,1364.6 728,1447.6 719.5,1447.6" fill="url(#h3)" stroke="#000" stroke-width="0"/>
<line x1="728" y1="1448" x2="739" y2="1448" stroke="#000" stroke-width="1.1"/>
<line x1="650" y1="1448" x2="719.5" y2="1448" stroke="#000" stroke-width="1.1"/>
<line x1="664.6" y1="1300" x2="664.6" y2="1398.8" stroke="#000" stroke-width="1.1"/>
<line x1="661.6" y1="1304.2" x2="667.6" y2="1298.2" stroke="#000" stroke-width="1.4"/>
<line x1="661.6" y1="1399.3" x2="667.6" y2="1393.3" stroke="#000" stroke-width="1.4"/>
<line x1="661" y1="1301.2" x2="683" y2="1301.2" stroke="#000" stroke-width="1.1"/>
<line x1="664.6" y1="1340.7" x2="684" y2="1340.7" stroke="#000" stroke-width="1.1"/>
<line x1="664.6" y1="1344" x2="684" y2="1344" stroke="#000" stroke-width="1.1"/>
<text class="t" x="0" y="0" font-size="18.65" font-weight="bold" textLength="14.7" lengthAdjust="spacingAndGlyphs" transform="translate(664.6,1354.9) rotate(-90)">600</text>
<text class="t" x="469" y="1337.8" font-size="14.67" font-weight="bold" textLength="94.4" lengthAdjust="spacingAndGlyphs">230X600 RCC BEAM</text>
<text class="t" x="469" y="1353.7" font-size="14.67" font-weight="bold" textLength="94.4" lengthAdjust="spacingAndGlyphs">AS PER STRUCTURE</text>
<line x1="568.3" y1="1332.4" x2="704.9" y2="1332.4" stroke="#000" stroke-width="1.1"/>
<polygon points="704.9,1332.4 697.9,1334.6 697.9,1330.2" fill="#000" stroke="none"/>
<text class="t" x="469" y="1385.4" font-size="14.67" font-weight="bold" textLength="87.1" lengthAdjust="spacingAndGlyphs">150 TH. RCC SLAB</text>
<text class="t" x="469" y="1401.2" font-size="14.67" font-weight="bold" textLength="94.4" lengthAdjust="spacingAndGlyphs">AS PER STRUCTURE</text>
<line x1="559.8" y1="1379.3" x2="659.8" y2="1379.3" stroke="#000" stroke-width="1.1"/>
<polygon points="659.8,1379.3 652.8,1381.5 652.8,1377.1" fill="#000" stroke="none"/>
<text class="t" x="469.5" y="1430.5" font-size="14.67" font-weight="bold" textLength="106.8" lengthAdjust="spacingAndGlyphs">STRUCTURAL GLAZING</text>
<text class="t" x="469.5" y="1446.3" font-size="14.67" font-weight="bold" textLength="143.4" lengthAdjust="spacingAndGlyphs">OF APPROVED MAKE/ COLOUR</text>
<text class="t" x="469.5" y="1462.2" font-size="14.67" font-weight="bold" textLength="98.8" lengthAdjust="spacingAndGlyphs">FIXED AS PER SPECS</text>
<line x1="593.9" y1="1424.4" x2="723.2" y2="1424.4" stroke="#000" stroke-width="1.1"/>
<polygon points="723.2,1424.4 716.2,1426.6 716.2,1422.2" fill="#000" stroke="none"/>
<line x1="689" y1="1372" x2="1010" y2="1372" stroke="#000" stroke-width="1.1" stroke-dasharray="8 4"/>
<text class="t" x="846.3" y="1346.3" font-size="15.71" font-weight="normal" textLength="111" lengthAdjust="spacingAndGlyphs">TERRACESLAB TOP</text>
<line x1="829.3" y1="1350" x2="928" y2="1350" stroke="#000" stroke-width="1.1"/>
<text class="t" x="846.3" y="1364.6" font-size="15" font-weight="normal" textLength="69.6" lengthAdjust="spacingAndGlyphs">LVL+12975</text>
<line x1="836.6" y1="1343.9" x2="836.6" y2="1372" stroke="#000" stroke-width="1.1"/>
<polygon points="836.6,1372 829.6,1363.95 843.6,1363.95" fill="#000" stroke="none"/>
<line x1="730.5" y1="1390.2" x2="804.9" y2="1390.2" stroke="#000" stroke-width="1.1"/>
<line x1="798.2" y1="1393.2" x2="804.2" y2="1387.2" stroke="#000" stroke-width="1.4"/>
<line x1="801.2" y1="1375.6" x2="801.2" y2="1395" stroke="#000" stroke-width="1.1"/>
<text class="t" x="758.5" y="1389.5" font-size="15.59" font-weight="bold" textLength="15.9" lengthAdjust="spacingAndGlyphs">450</text>
<text class="t" x="780.5" y="1440.2" font-size="32.86" font-weight="normal" textLength="106.1" lengthAdjust="spacingAndGlyphs">DETAIL-3</text>
<line x1="779.3" y1="1448" x2="887.8" y2="1448" stroke="#000" stroke-width="1.5"/>
<circle cx="1760.7" cy="510.2" r="20.6" fill="none" stroke="#000" stroke-width="1.2"/>
<text class="t" x="1750.7" y="519.3" font-size="27.97" font-weight="bold" textLength="21" lengthAdjust="spacingAndGlyphs">10</text>
<line x1="1760.4" y1="531.2" x2="1760.4" y2="1072" stroke="#000" stroke-width="1.1" stroke-dasharray="31 4 6 4"/>
<polygon points="1681.2,552.3 1693,552.3 1705.8,703.2 1694.9,703.2" fill="url(#h3)" stroke="#000" stroke-width="0"/>
<line x1="1681.2" y1="552.3" x2="1694.9" y2="703.2" stroke="#000" stroke-width="3"/>
<line x1="1693" y1="552.3" x2="1705.8" y2="703.2" stroke="#000" stroke-width="2.4"/>
<line x1="1663.8" y1="552.3" x2="1681.2" y2="552.3" stroke="#000" stroke-width="1.1"/>
<line x1="1700.4" y1="552.3" x2="1755.2" y2="552.3" stroke="#000" stroke-width="1.1"/>
<polyline points="1693,552.3 1700,546 1696,553 1702,549" fill="none" stroke="#000" stroke-width="1" stroke-linejoin="miter"/>
<line x1="1742.4" y1="552.3" x2="1742.4" y2="703.2" stroke="#000" stroke-width="1.1"/>
<text class="t" x="1854" y="595.6" font-size="14.52" font-weight="bold" textLength="106.1" lengthAdjust="spacingAndGlyphs">STRUCTURAL GLAZING</text>
<text class="t" x="1854" y="611.3" font-size="14.52" font-weight="bold" textLength="142.7" lengthAdjust="spacingAndGlyphs">OF APPROVED MAKE/ COLOUR</text>
<text class="t" x="1854" y="627.2" font-size="14.52" font-weight="bold" textLength="97.9" lengthAdjust="spacingAndGlyphs">FIXED AS PER SPECS</text>
<line x1="1691.2" y1="590.3" x2="1852.2" y2="590.3" stroke="#000" stroke-width="1.1"/>
<polygon points="1691.2,590.3 1698.2,588.1 1698.2,592.5" fill="#000" stroke="none"/>
<text class="t" x="1852.2" y="660.2" font-size="15.29" font-weight="bold" textLength="174.7" lengthAdjust="spacingAndGlyphs">20  THICK POLISHED BLACK GRANITE</text>
<text class="t" x="1852.2" y="675.4" font-size="15.29" font-weight="bold" textLength="110.6" lengthAdjust="spacingAndGlyphs">AS/APPROVED SAMPLE</text>
<polyline points="1851.3,655.2 1753.4,655.2 1753.4,699.5" fill="none" stroke="#000" stroke-width="1.1" stroke-linejoin="miter"/>
<polygon points="1753.4,703 1751.2,696 1755.6,696" fill="#000" stroke="none"/>
<line x1="1691.2" y1="693.1" x2="1782.7" y2="693.1" stroke="#000" stroke-width="1.1"/>
<line x1="1776" y1="696.1" x2="1782" y2="690.1" stroke="#000" stroke-width="1.4"/>
<line x1="1691" y1="696.1" x2="1697" y2="690.1" stroke="#000" stroke-width="1.4"/>
<line x1="1779" y1="688" x2="1779" y2="703" stroke="#000" stroke-width="1.1"/>
<text class="t" x="1729.6" y="691.3" font-size="16.81" font-weight="bold" textLength="15.6" lengthAdjust="spacingAndGlyphs">535</text>
<rect x="1694" y="703" width="86.8" height="8" fill="#000"/>
<line x1="1696" y1="706.5" x2="1780" y2="706.5" stroke="#fff" stroke-width="1" stroke-dasharray="2 2"/>
<polyline points="1706.8,1033.3 1706.8,709.6 1778.6,709.6 1778.6,832.7" fill="none" stroke="#000" stroke-width="3" stroke-linejoin="miter"/>
<polygon points="1708,711 1777.5,711 1777.5,832.7 1708,832.7" fill="url(#h7)" stroke="#000" stroke-width="0"/>
<polygon points="1708,832 1740.3,832 1740.3,1033 1708,1033" fill="url(#h7)" stroke="#000" stroke-width="0"/>
<rect x="1694.5" y="709.6" width="11" height="249.3" fill="url(#stip)" stroke="#000" stroke-width="1.1"/>
<text class="t" x="1735" y="739.7" font-size="15.29" font-weight="bold" textLength="15.7" lengthAdjust="spacingAndGlyphs">460</text>
<line x1="1706.8" y1="742.5" x2="1782.7" y2="742.5" stroke="#000" stroke-width="1.1"/>
<line x1="1681.2" y1="701.3" x2="1681.2" y2="1049.5" stroke="#000" stroke-width="1.1"/>
<line x1="1678.2" y1="706.2" x2="1684.2" y2="700.2" stroke="#000" stroke-width="1.4"/>
<line x1="1677.5" y1="703.2" x2="1690.3" y2="703.2" stroke="#000" stroke-width="1.1"/>
<line x1="1678.2" y1="1036.7" x2="1684.2" y2="1030.7" stroke="#000" stroke-width="1.4"/>
<line x1="1678.2" y1="1049.2" x2="1684.2" y2="1043.2" stroke="#000" stroke-width="1.4"/>
<text class="t" x="0" y="0" font-size="16.51" font-weight="bold" textLength="21.5" lengthAdjust="spacingAndGlyphs" transform="translate(1681,843.5) rotate(-90)">1650</text>
<text class="t" x="0" y="0" font-size="13.3" font-weight="bold" textLength="15.1" lengthAdjust="spacingAndGlyphs" transform="translate(1681,1006.3) rotate(-90)">450</text>
<text class="t" x="0" y="0" font-size="16.51" font-weight="bold" textLength="9.6" lengthAdjust="spacingAndGlyphs" transform="translate(1673.4,1030) rotate(-90)">75</text>
<polyline points="1863.2,832.7 1741.5,832.7 1741.5,1072" fill="none" stroke="#000" stroke-width="3" stroke-linejoin="miter"/>
<polyline points="1858.9,857.6 1766.1,857.6 1766.1,1072" fill="none" stroke="#000" stroke-width="3" stroke-linejoin="miter"/>
<line x1="1863.2" y1="832.7" x2="1858.9" y2="857.6" stroke="#000" stroke-width="1.1"/>
<rect x="1801.82" y="850.2" width="1.2" height="1.2" fill="#000"/>
<rect x="1771.17" y="844.34" width="1.39" height="1.39" fill="#000"/>
<rect x="1822.2" y="850.96" width="1.63" height="1.63" fill="#000"/>
<rect x="1821.07" y="838.42" width="1.63" height="1.63" fill="#000"/>
<rect x="1778.08" y="847.34" width="1.12" height="1.12" fill="#000"/>
<rect x="1829.62" y="839.98" width="0.99" height="0.99" fill="#000"/>
<rect x="1772.46" y="839.07" width="1.67" height="1.67" fill="#000"/>
<rect x="1811.08" y="842.53" width="1.15" height="1.15" fill="#000"/>
<rect x="1859.12" y="846.15" width="0.97" height="0.97" fill="#000"/>
<rect x="1837.78" y="849.07" width="1.79" height="1.79" fill="#000"/>
<rect x="1755.87" y="845.5" width="1.6" height="1.6" fill="#000"/>
<rect x="1841.5" y="854.29" width="0.76" height="0.76" fill="#000"/>
<rect x="1778.07" y="838.38" width="0.92" height="0.92" fill="#000"/>
<rect x="1856.86" y="847.66" width="1.72" height="1.72" fill="#000"/>
<rect x="1787.18" y="853.32" width="1.21" height="1.21" fill="#000"/>
<rect x="1774.15" y="851.56" width="1.74" height="1.74" fill="#000"/>
<rect x="1756.27" y="847.92" width="1.39" height="1.39" fill="#000"/>
<rect x="1769.25" y="843.37" width="0.87" height="0.87" fill="#000"/>
<rect x="1767.66" y="841.1" width="1.37" height="1.37" fill="#000"/>
<rect x="1819.59" y="840.07" width="0.73" height="0.73" fill="#000"/>
<rect x="1781.96" y="849.57" width="0.92" height="0.92" fill="#000"/>
<rect x="1780.21" y="840.07" width="1.58" height="1.58" fill="#000"/>
<rect x="1807.57" y="837.27" width="0.83" height="0.83" fill="#000"/>
<rect x="1789.85" y="847" width="1.41" height="1.41" fill="#000"/>
<rect x="1754.57" y="839.27" width="1.47" height="1.47" fill="#000"/>
<rect x="1791.54" y="841.67" width="1.05" height="1.05" fill="#000"/>
<rect x="1854.57" y="842.25" width="1.33" height="1.33" fill="#000"/>
<rect x="1785.43" y="844.33" width="1.65" height="1.65" fill="#000"/>
<rect x="1859.61" y="843.28" width="0.93" height="0.93" fill="#000"/>
<rect x="1828.45" y="840.07" width="0.73" height="0.73" fill="#000"/>
<rect x="1848.59" y="844.48" width="1.61" height="1.61" fill="#000"/>
<rect x="1791.12" y="853.66" width="1.22" height="1.22" fill="#000"/>
<rect x="1762.86" y="836.3" width="1.32" height="1.32" fill="#000"/>
<rect x="1818.32" y="854.2" width="0.82" height="0.82" fill="#000"/>
<rect x="1816.17" y="843.42" width="1.26" height="1.26" fill="#000"/>
<rect x="1760.92" y="841.67" width="1.28" height="1.28" fill="#000"/>
<rect x="1851.36" y="838.18" width="1.25" height="1.25" fill="#000"/>
<rect x="1837.36" y="855.34" width="0.93" height="0.93" fill="#000"/>
<rect x="1758.69" y="854.86" width="1.77" height="1.77" fill="#000"/>
<rect x="1800" y="837.07" width="1.72" height="1.72" fill="#000"/>
<rect x="1789" y="854.08" width="1.39" height="1.39" fill="#000"/>
<rect x="1839.65" y="839.21" width="1.57" height="1.57" fill="#000"/>
<rect x="1769.76" y="844.09" width="1.63" height="1.63" fill="#000"/>
<rect x="1840.19" y="839.66" width="0.96" height="0.96" fill="#000"/>
<rect x="1790.37" y="846.36" width="1.13" height="1.13" fill="#000"/>
<polygon points="1760.54,840.46 1762.54,843.96 1758.54,843.96" fill="none" stroke="#000" stroke-width="0.8"/>
<polygon points="1826.74,849.56 1828.74,853.06 1824.74,853.06" fill="none" stroke="#000" stroke-width="0.8"/>
<polygon points="1751.52,844.87 1753.52,848.37 1749.52,848.37" fill="none" stroke="#000" stroke-width="0.8"/>
<rect x="1759.39" y="866.08" width="1.63" height="1.63" fill="#000"/>
<rect x="1747.24" y="985.1" width="1.31" height="1.31" fill="#000"/>
<rect x="1756.91" y="922.92" width="1.17" height="1.17" fill="#000"/>
<rect x="1756.07" y="948.26" width="1.43" height="1.43" fill="#000"/>
<rect x="1753.49" y="950.93" width="0.75" height="0.75" fill="#000"/>
<rect x="1756.76" y="961.77" width="0.97" height="0.97" fill="#000"/>
<rect x="1759.51" y="1023.35" width="1.21" height="1.21" fill="#000"/>
<rect x="1748.41" y="958.32" width="0.84" height="0.84" fill="#000"/>
<rect x="1747.44" y="949.29" width="0.82" height="0.82" fill="#000"/>
<rect x="1753.4" y="966.15" width="0.76" height="0.76" fill="#000"/>
<rect x="1757.09" y="875.44" width="1.51" height="1.51" fill="#000"/>
<rect x="1759.78" y="966.43" width="0.78" height="0.78" fill="#000"/>
<rect x="1754.57" y="938.11" width="1.75" height="1.75" fill="#000"/>
<rect x="1747.59" y="1039.7" width="1.8" height="1.8" fill="#000"/>
<rect x="1758.91" y="1030.78" width="0.93" height="0.93" fill="#000"/>
<rect x="1763.65" y="962.28" width="1.75" height="1.75" fill="#000"/>
<rect x="1762.4" y="893" width="1.57" height="1.57" fill="#000"/>
<rect x="1762.68" y="871.89" width="1.1" height="1.1" fill="#000"/>
<rect x="1759.37" y="891.66" width="1.69" height="1.69" fill="#000"/>
<rect x="1750.22" y="1030.91" width="0.88" height="0.88" fill="#000"/>
<rect x="1754.54" y="1053.02" width="0.94" height="0.94" fill="#000"/>
<rect x="1749.99" y="965.27" width="1.06" height="1.06" fill="#000"/>
<rect x="1745.7" y="896.6" width="0.89" height="0.89" fill="#000"/>
<rect x="1762.79" y="1002.09" width="1.69" height="1.69" fill="#000"/>
<rect x="1748.21" y="1024.39" width="0.84" height="0.84" fill="#000"/>
<rect x="1755.08" y="992.9" width="1.11" height="1.11" fill="#000"/>
<rect x="1761.59" y="975.7" width="1.35" height="1.35" fill="#000"/>
<rect x="1761.77" y="880.18" width="1.79" height="1.79" fill="#000"/>
<rect x="1756.97" y="941.58" width="1.58" height="1.58" fill="#000"/>
<rect x="1750.03" y="1067.99" width="1.34" height="1.34" fill="#000"/>
<rect x="1751.84" y="1020.1" width="1.2" height="1.2" fill="#000"/>
<rect x="1748.36" y="1015.64" width="0.77" height="0.77" fill="#000"/>
<rect x="1760.58" y="911.77" width="1.41" height="1.41" fill="#000"/>
<rect x="1763.7" y="982.2" width="1.44" height="1.44" fill="#000"/>
<rect x="1750.94" y="858.38" width="0.76" height="0.76" fill="#000"/>
<rect x="1747.84" y="988.6" width="1.19" height="1.19" fill="#000"/>
<rect x="1754.74" y="1047.85" width="0.86" height="0.86" fill="#000"/>
<rect x="1749.32" y="996.46" width="0.74" height="0.74" fill="#000"/>
<rect x="1745.05" y="933.25" width="0.83" height="0.83" fill="#000"/>
<rect x="1751.79" y="905.54" width="1.35" height="1.35" fill="#000"/>
<rect x="1756.19" y="901.29" width="1.39" height="1.39" fill="#000"/>
<rect x="1754.02" y="886.57" width="1.73" height="1.73" fill="#000"/>
<rect x="1749.63" y="889.65" width="0.82" height="0.82" fill="#000"/>
<rect x="1757.13" y="1042.71" width="1.56" height="1.56" fill="#000"/>
<rect x="1752.64" y="914.02" width="0.73" height="0.73" fill="#000"/>
<rect x="1757.25" y="977.21" width="1.1" height="1.1" fill="#000"/>
<rect x="1757.27" y="952.08" width="1.73" height="1.73" fill="#000"/>
<rect x="1758.94" y="910.68" width="1.7" height="1.7" fill="#000"/>
<rect x="1745.84" y="970.68" width="1.16" height="1.16" fill="#000"/>
<rect x="1749.52" y="870.38" width="1.56" height="1.56" fill="#000"/>
<rect x="1745.23" y="974.8" width="1.74" height="1.74" fill="#000"/>
<rect x="1747.7" y="900.3" width="1.38" height="1.38" fill="#000"/>
<rect x="1754.63" y="994.01" width="1.6" height="1.6" fill="#000"/>
<rect x="1748.32" y="923.59" width="1.04" height="1.04" fill="#000"/>
<rect x="1745.92" y="1046.54" width="1.57" height="1.57" fill="#000"/>
<polygon points="1757.3,860.31 1759.3,863.81 1755.3,863.81" fill="none" stroke="#000" stroke-width="0.8"/>
<polygon points="1758.98,1012.51 1760.98,1016.01 1756.98,1016.01" fill="none" stroke="#000" stroke-width="0.8"/>
<polygon points="1754.05,1011.8 1756.05,1015.3 1752.05,1015.3" fill="none" stroke="#000" stroke-width="0.8"/>
<polygon points="1753.88,905.55 1755.88,909.05 1751.88,909.05" fill="none" stroke="#000" stroke-width="0.8"/>
<polygon points="1767.5,859 1784,859 1784,1071 1767.5,1071" fill="url(#h7)" stroke="#000" stroke-width="0"/>
<line x1="1784.5" y1="858.6" x2="1784.5" y2="1072" stroke="#000" stroke-width="3"/>
<line x1="1717.6" y1="1071" x2="1797.4" y2="1071" stroke="#000" stroke-width="1.1"/>
<line x1="1778" y1="822.6" x2="1862.1" y2="822.6" stroke="#000" stroke-width="1.1"/>
<line x1="1778" y1="825.2" x2="1862.1" y2="825.2" stroke="#000" stroke-width="1.1"/>
<line x1="1862.1" y1="792.8" x2="1862.1" y2="884.5" stroke="#000" stroke-width="1.1"/>
<text class="t" x="1876.1" y="781" font-size="14.83" font-weight="bold" textLength="110" lengthAdjust="spacingAndGlyphs">230 THICK BRICK WALL</text>
<line x1="1737" y1="776.2" x2="1875" y2="776.2" stroke="#000" stroke-width="1.1"/>
<polygon points="1737,776.2 1744,774 1744,778.4" fill="#000" stroke="none"/>
<text class="t" x="1876.1" y="848.9" font-size="14.83" font-weight="bold" textLength="87.4" lengthAdjust="spacingAndGlyphs">150 TH. RCC SLAB</text>
<text class="t" x="1876.1" y="865.1" font-size="14.83" font-weight="bold" textLength="93.9" lengthAdjust="spacingAndGlyphs">AS PER STRUCTURE</text>
<line x1="1836.2" y1="844.6" x2="1875" y2="844.6" stroke="#000" stroke-width="1.1"/>
<polygon points="1836.2,844.6 1843.2,842.4 1843.2,846.8" fill="#000" stroke="none"/>
<text class="t" x="1874" y="932" font-size="14.83" font-weight="bold" textLength="110" lengthAdjust="spacingAndGlyphs">115 THICK BRICK WALL</text>
<line x1="1779" y1="926.5" x2="1872.9" y2="926.5" stroke="#000" stroke-width="1.1"/>
<polygon points="1779,926.5 1786,924.3 1786,928.7" fill="#000" stroke="none"/>
<text class="t" x="1874" y="955.7" font-size="14.83" font-weight="bold" textLength="88.4" lengthAdjust="spacingAndGlyphs">150 TH. RCC WALL</text>
<text class="t" x="1874" y="970.8" font-size="14.83" font-weight="bold" textLength="93.8" lengthAdjust="spacingAndGlyphs">AS PER STRUCTURE</text>
<line x1="1750" y1="950.3" x2="1872.9" y2="950.3" stroke="#000" stroke-width="1.1"/>
<polygon points="1750,950.3 1757,948.1 1757,952.5" fill="#000" stroke="none"/>
<text class="t" x="1824.4" y="1060.2" font-size="31.43" font-weight="normal" textLength="105.6" lengthAdjust="spacingAndGlyphs">DETAIL-4</text>
<line x1="1823.3" y1="1067.8" x2="1931.5" y2="1067.8" stroke="#000" stroke-width="1.5"/>
<text class="t" x="1541.9" y="795.6" font-size="16.29" font-weight="normal" textLength="94.8" lengthAdjust="spacingAndGlyphs">GROUND FL.FIN.</text>
<line x1="1554.8" y1="800.4" x2="1652.9" y2="800.4" stroke="#000" stroke-width="1.1"/>
<text class="t" x="1573.1" y="815.5" font-size="17" font-weight="normal" textLength="63.6" lengthAdjust="spacingAndGlyphs">LVL+1350</text>
<line x1="1646.5" y1="793.9" x2="1646.5" y2="822" stroke="#000" stroke-width="1.1"/>
<polygon points="1646.5,822 1639.5,813.95 1653.5,813.95" fill="#000" stroke="none"/>
<line x1="1551.6" y1="822" x2="1778" y2="822" stroke="#000" stroke-width="1.1" stroke-dasharray="8 4"/>
<text class="t" x="1535.4" y="866.2" font-size="14.83" font-weight="bold" textLength="106.7" lengthAdjust="spacingAndGlyphs">FIRED BLACK GRANITE,</text>
<text class="t" x="1535.4" y="882.3" font-size="14.83" font-weight="bold" textLength="116.4" lengthAdjust="spacingAndGlyphs">FIXED BY DRY CLADDING</text>
<line x1="1642.1" y1="861.8" x2="1692.8" y2="861.8" stroke="#000" stroke-width="1.1"/>
<polygon points="1692.8,861.8 1685.8,864 1685.8,859.6" fill="#000" stroke="none"/>
<text class="t" x="1568.8" y="937.3" font-size="16.86" font-weight="normal" textLength="67.9" lengthAdjust="spacingAndGlyphs">DRIVE WAY.</text>
<line x1="1566.7" y1="942.7" x2="1652.9" y2="942.7" stroke="#000" stroke-width="1.1"/>
<text class="t" x="1580.7" y="956.7" font-size="15.29" font-weight="normal" textLength="56" lengthAdjust="spacingAndGlyphs">LVL+450</text>
<line x1="1646.5" y1="935.2" x2="1646.5" y2="958.9" stroke="#000" stroke-width="1.1"/>
<polygon points="1646.5,958.9 1639.5,950.85 1653.5,950.85" fill="#000" stroke="none"/>
<rect x="1576.4" y="958.9" width="129.4" height="8.6" fill="#000"/>
<text class="t" x="1596.9" y="1008.5" font-size="17" font-weight="normal" textLength="33.4" lengthAdjust="spacingAndGlyphs">ROAD</text>
<line x1="1587.1" y1="1012.8" x2="1652.9" y2="1012.8" stroke="#000" stroke-width="1.1"/>
<text class="t" x="1577.4" y="1029" font-size="17" font-weight="normal" textLength="52.9" lengthAdjust="spacingAndGlyphs">LVL.±00</text>
<line x1="1646.5" y1="1006.3" x2="1646.5" y2="1033.3" stroke="#000" stroke-width="1.1"/>
<polygon points="1646.5,1033.7 1639.5,1025.65 1653.5,1025.65" fill="#000" stroke="none"/>
<line x1="1577.4" y1="1033.7" x2="1681" y2="1033.7" stroke="#000" stroke-width="1.1" stroke-dasharray="8 4"/>
<line x1="1576.4" y1="1046.2" x2="1693.9" y2="1046.2" stroke="#000" stroke-width="1.1"/>
<rect x="1694.5" y="1034.4" width="45.8" height="11.8" fill="url(#stip)" stroke="#000" stroke-width="0.8"/>
<text class="t" x="1716.5" y="928.7" font-size="14.83" font-weight="bold" textLength="15.1" lengthAdjust="spacingAndGlyphs">230</text>
<line x1="1705.8" y1="930.2" x2="1745.7" y2="930.2" stroke="#000" stroke-width="1.1"/>
<polyline points="1145.3,1049.3 1183.2,1049.3 1217,1041.2 1205.7,1057.4 1223.5,1049.3 1288.7,1049.3" fill="none" stroke="#000" stroke-width="1.1" stroke-linejoin="miter"/>
<line x1="1162.4" y1="1049.3" x2="1162.4" y2="1463" stroke="#000" stroke-width="1.1"/>
<line x1="1238.6" y1="1049.3" x2="1238.6" y2="1463" stroke="#000" stroke-width="1.1" stroke-dasharray="31 4 6 4"/>
<polygon points="1256.9,1049.3 1278.9,1049.3 1278.9,1462.3 1256.9,1462.3" fill="url(#h3)" stroke="#000" stroke-width="0"/>
<line x1="1256.9" y1="1049.3" x2="1256.9" y2="1463" stroke="#000" stroke-width="1.1"/>
<line x1="1279.5" y1="1049.3" x2="1279.5" y2="1463" stroke="#000" stroke-width="3"/>
<polyline points="1145.2,1463.2 1181.5,1463.2 1216.5,1455.6 1205.5,1470.5 1225.4,1463.2 1288.4,1463.2" fill="none" stroke="#000" stroke-width="1.1" stroke-linejoin="miter"/>
<path d="M1280,1096 L1321.35,1096 A6.05,6.05 0 0 1 1321.35,1108.1 L1280,1108.1" fill="none" stroke="#000" stroke-width="3"/>
<path d="M1280,1222.4 L1321.35,1222.4 A6.05,6.05 0 0 1 1321.35,1234.5 L1280,1234.5" fill="none" stroke="#000" stroke-width="3"/>
<path d="M1280,1350 L1322.6,1350 A4.8,4.8 0 0 1 1322.6,1359.6 L1280,1359.6" fill="none" stroke="#000" stroke-width="3"/>
<line x1="1285.5" y1="1102" x2="1366" y2="1102" stroke="#000" stroke-width="1.1" stroke-dasharray="14 3 3 3"/>
<line x1="1285.5" y1="1354.9" x2="1366" y2="1354.9" stroke="#000" stroke-width="1.1" stroke-dasharray="14 3 3 3"/>
<line x1="1306.6" y1="1099" x2="1306.6" y2="1358.7" stroke="#000" stroke-width="1.1"/>
<line x1="1346.4" y1="1092.8" x2="1346.4" y2="1364" stroke="#000" stroke-width="1.1"/>
<line x1="1343.4" y1="1099" x2="1349.4" y2="1093" stroke="#000" stroke-width="1.4"/>
<line x1="1343.4" y1="1111.4" x2="1349.4" y2="1105.4" stroke="#000" stroke-width="1.4"/>
<line x1="1343.4" y1="1225.4" x2="1349.4" y2="1219.4" stroke="#000" stroke-width="1.4"/>
<line x1="1343.4" y1="1237.5" x2="1349.4" y2="1231.5" stroke="#000" stroke-width="1.4"/>
<line x1="1343.4" y1="1353" x2="1349.4" y2="1347" stroke="#000" stroke-width="1.4"/>
<line x1="1343.4" y1="1363.5" x2="1349.4" y2="1357.5" stroke="#000" stroke-width="1.4"/>
<line x1="1326" y1="1096" x2="1349" y2="1096" stroke="#000" stroke-width="1.1"/>
<line x1="1326" y1="1108.4" x2="1349" y2="1108.4" stroke="#000" stroke-width="1.1"/>
<line x1="1326" y1="1222.4" x2="1349" y2="1222.4" stroke="#000" stroke-width="1.1"/>
<line x1="1326" y1="1234.5" x2="1349" y2="1234.5" stroke="#000" stroke-width="1.1"/>
<line x1="1326" y1="1350" x2="1349" y2="1350" stroke="#000" stroke-width="1.1"/>
<line x1="1326" y1="1360.5" x2="1349" y2="1360.5" stroke="#000" stroke-width="1.1"/>
<text class="t" x="0" y="0" font-size="18.5" font-weight="bold" textLength="10.6" lengthAdjust="spacingAndGlyphs" transform="translate(1368.5,1093.6) rotate(-90)">75</text>
<polyline points="1348,1104 1368,1097 1368,1083" fill="none" stroke="#000" stroke-width="1" stroke-linejoin="miter"/>
<text class="t" x="0" y="0" font-size="18.34" font-weight="bold" textLength="12.1" lengthAdjust="spacingAndGlyphs" transform="translate(1368,1221.6) rotate(-90)">75</text>
<polyline points="1348,1229 1368,1222.4 1368,1209.5" fill="none" stroke="#000" stroke-width="1" stroke-linejoin="miter"/>
<text class="t" x="0" y="0" font-size="18.34" font-weight="bold" textLength="11.2" lengthAdjust="spacingAndGlyphs" transform="translate(1368,1347.5) rotate(-90)">75</text>
<polyline points="1348,1355 1368,1350 1368,1336.3" fill="none" stroke="#000" stroke-width="1" stroke-linejoin="miter"/>
<text class="t" x="0" y="0" font-size="17.12" font-weight="bold" textLength="12.1" lengthAdjust="spacingAndGlyphs" transform="translate(1345.1,1171) rotate(-90)">60</text>
<text class="t" x="0" y="0" font-size="16.05" font-weight="bold" textLength="21" lengthAdjust="spacingAndGlyphs" transform="translate(1305.7,1212.1) rotate(-90)">1605</text>
<text class="t" x="0" y="0" font-size="18.5" font-weight="bold" textLength="10.3" lengthAdjust="spacingAndGlyphs" transform="translate(1345.6,1296.6) rotate(-90)">60</text>
<text class="t" x="1363.7" y="1153.7" font-size="14.67" font-weight="bold" textLength="106.3" lengthAdjust="spacingAndGlyphs">STRUCTURAL GLAZING</text>
<text class="t" x="1363.7" y="1169.8" font-size="14.67" font-weight="bold" textLength="66.1" lengthAdjust="spacingAndGlyphs">OF APPROVED</text>
<text class="t" x="1363.7" y="1185.5" font-size="14.67" font-weight="bold" textLength="73.3" lengthAdjust="spacingAndGlyphs">MAKE/ COLOUR</text>
<text class="t" x="1363.7" y="1201.6" font-size="14.67" font-weight="bold" textLength="98.3" lengthAdjust="spacingAndGlyphs">FIXED AS PER SPECS</text>
<line x1="1264.6" y1="1147.6" x2="1362.9" y2="1147.6" stroke="#000" stroke-width="1.1"/>
<polygon points="1277,1147.6 1270,1149.8 1270,1145.4" fill="#000" stroke="none"/>
<text class="t" x="1041" y="1196.7" font-size="14.06" font-weight="bold" textLength="171" lengthAdjust="spacingAndGlyphs">20 THICK BLACK POLISHED GRANITE</text>
<text class="t" x="1041" y="1212.4" font-size="14.06" font-weight="bold" textLength="140.5" lengthAdjust="spacingAndGlyphs">FIXED OVER CEMENT MORTAR</text>
<polyline points="1216.8,1191.4 1231.1,1191.4 1231.1,1214.9" fill="none" stroke="#000" stroke-width="1.1" stroke-linejoin="miter"/>
<polygon points="1231.1,1214.9 1228.9,1207.9 1233.3,1207.9" fill="#000" stroke="none"/>
<polyline points="1213,1262.6 1213,1214.9 1256.9,1214.9" fill="none" stroke="#000" stroke-width="1.1" stroke-linejoin="miter"/>
<polyline points="1215,1262.6 1215,1217.2 1256.9,1217.2" fill="none" stroke="#000" stroke-width="1.1" stroke-linejoin="miter"/>
<line x1="1217" y1="1222" x2="1217" y2="1262.6" stroke="#000" stroke-width="1.1"/>
<polygon points="1221,1222 1256.9,1222 1256.9,1273.6 1221,1273.6" fill="url(#hb)" stroke="#000" stroke-width="0"/>
<polyline points="1221,1273.6 1221,1222 1256.9,1222" fill="none" stroke="#000" stroke-width="3" stroke-linejoin="miter"/>
<line x1="1116.5" y1="1262.6" x2="1218.7" y2="1262.6" stroke="#000" stroke-width="1.1"/>
<line x1="1116.5" y1="1265.5" x2="1218.7" y2="1265.5" stroke="#000" stroke-width="1.1"/>
<line x1="1201.5" y1="1211" x2="1201.5" y2="1265.5" stroke="#000" stroke-width="1.1"/>
<line x1="1198.5" y1="1217.9" x2="1204.5" y2="1211.9" stroke="#000" stroke-width="1.4"/>
<line x1="1198.5" y1="1266.6" x2="1204.5" y2="1260.6" stroke="#000" stroke-width="1.4"/>
<line x1="1196.8" y1="1214.9" x2="1209" y2="1214.9" stroke="#000" stroke-width="1.1"/>
<text class="t" x="0" y="0" font-size="17.73" font-weight="bold" textLength="15.3" lengthAdjust="spacingAndGlyphs" transform="translate(1200.6,1245.5) rotate(-90)">300</text>
<text class="t" x="1041" y="1254" font-size="14.52" font-weight="bold" textLength="109" lengthAdjust="spacingAndGlyphs">230 THICK BRICK WALL</text>
<line x1="1150" y1="1247.9" x2="1236.9" y2="1247.9" stroke="#000" stroke-width="1.1"/>
<polygon points="1233,1247.9 1226,1250.1 1226,1245.7" fill="#000" stroke="none"/>
<polyline points="1115.6,1273.6 1256.9,1273.6 1256.9,1368.7 1220.2,1368.7 1220.2,1297.5 1117.5,1297.5" fill="none" stroke="#000" stroke-width="3" stroke-linejoin="miter"/>
<line x1="1115.6" y1="1273.6" x2="1117.5" y2="1297.5" stroke="#000" stroke-width="1.1"/>
<rect x="1129.53" y="1280.41" width="0.76" height="0.76" fill="#000"/>
<rect x="1152.55" y="1290.24" width="1.47" height="1.47" fill="#000"/>
<rect x="1203.53" y="1289.52" width="1.01" height="1.01" fill="#000"/>
<rect x="1174.38" y="1284.29" width="1.57" height="1.57" fill="#000"/>
<rect x="1171.32" y="1281.04" width="1.41" height="1.41" fill="#000"/>
<rect x="1215.51" y="1280.12" width="1.67" height="1.67" fill="#000"/>
<rect x="1120.52" y="1280.95" width="0.97" height="0.97" fill="#000"/>
<rect x="1193.39" y="1293.95" width="1.53" height="1.53" fill="#000"/>
<rect x="1151.69" y="1292.72" width="1.07" height="1.07" fill="#000"/>
<rect x="1142.92" y="1293.24" width="1.4" height="1.4" fill="#000"/>
<rect x="1188.28" y="1288.64" width="1.78" height="1.78" fill="#000"/>
<rect x="1165.95" y="1291.95" width="1.47" height="1.47" fill="#000"/>
<rect x="1204.75" y="1284.31" width="1.5" height="1.5" fill="#000"/>
<rect x="1176.03" y="1281.85" width="0.95" height="0.95" fill="#000"/>
<rect x="1181.26" y="1277.48" width="1.7" height="1.7" fill="#000"/>
<rect x="1133.46" y="1276.51" width="0.84" height="0.84" fill="#000"/>
<rect x="1211.89" y="1282.55" width="0.87" height="0.87" fill="#000"/>
<rect x="1121.87" y="1276.79" width="1.47" height="1.47" fill="#000"/>
<rect x="1182.39" y="1289.24" width="1.52" height="1.52" fill="#000"/>
<rect x="1125.58" y="1287.22" width="1.11" height="1.11" fill="#000"/>
<rect x="1200.76" y="1291.57" width="1.68" height="1.68" fill="#000"/>
<rect x="1125.59" y="1292.49" width="1.71" height="1.71" fill="#000"/>
<rect x="1213.43" y="1278.04" width="0.94" height="0.94" fill="#000"/>
<rect x="1130.2" y="1276.65" width="1.64" height="1.64" fill="#000"/>
<rect x="1200.2" y="1288.05" width="1.61" height="1.61" fill="#000"/>
<rect x="1182.15" y="1281.46" width="0.83" height="0.83" fill="#000"/>
<rect x="1128.79" y="1290.39" width="0.94" height="0.94" fill="#000"/>
<rect x="1150.91" y="1284.05" width="0.74" height="0.74" fill="#000"/>
<rect x="1144.67" y="1281.37" width="1.49" height="1.49" fill="#000"/>
<rect x="1155.8" y="1282.1" width="1.76" height="1.76" fill="#000"/>
<rect x="1169.37" y="1292.18" width="1.39" height="1.39" fill="#000"/>
<rect x="1122.1" y="1283.85" width="1.19" height="1.19" fill="#000"/>
<rect x="1196.3" y="1282.59" width="1.48" height="1.48" fill="#000"/>
<rect x="1172.79" y="1280.11" width="1.65" height="1.65" fill="#000"/>
<rect x="1128.09" y="1291.58" width="0.9" height="0.9" fill="#000"/>
<rect x="1119.13" y="1279.84" width="1.54" height="1.54" fill="#000"/>
<rect x="1216.79" y="1276.08" width="1.25" height="1.25" fill="#000"/>
<rect x="1168.15" y="1291.14" width="0.92" height="0.92" fill="#000"/>
<rect x="1168.46" y="1282.6" width="1.62" height="1.62" fill="#000"/>
<rect x="1145.06" y="1293.93" width="1.03" height="1.03" fill="#000"/>
<polygon points="1142.18,1286.09 1144.18,1289.59 1140.18,1289.59" fill="none" stroke="#000" stroke-width="0.8"/>
<polygon points="1168.84,1278.43 1170.84,1281.93 1166.84,1281.93" fill="none" stroke="#000" stroke-width="0.8"/>
<polygon points="1181.83,1278.05 1183.83,1281.55 1179.83,1281.55" fill="none" stroke="#000" stroke-width="0.8"/>
<rect x="1248.21" y="1338.74" width="1.57" height="1.57" fill="#000"/>
<rect x="1243.09" y="1308.01" width="1.15" height="1.15" fill="#000"/>
<rect x="1235.63" y="1356.14" width="0.81" height="0.81" fill="#000"/>
<rect x="1251.43" y="1278.27" width="0.94" height="0.94" fill="#000"/>
<rect x="1231.42" y="1357.11" width="1.26" height="1.26" fill="#000"/>
<rect x="1235.14" y="1355.56" width="0.97" height="0.97" fill="#000"/>
<rect x="1237.75" y="1323.84" width="1.53" height="1.53" fill="#000"/>
<rect x="1247.1" y="1334.17" width="1.1" height="1.1" fill="#000"/>
<rect x="1233.45" y="1289.98" width="1.63" height="1.63" fill="#000"/>
<rect x="1244.19" y="1342.78" width="0.9" height="0.9" fill="#000"/>
<rect x="1237.04" y="1345.61" width="1.35" height="1.35" fill="#000"/>
<rect x="1227.03" y="1317.58" width="1.68" height="1.68" fill="#000"/>
<rect x="1230.61" y="1293.24" width="1.05" height="1.05" fill="#000"/>
<rect x="1245.5" y="1351.93" width="0.89" height="0.89" fill="#000"/>
<rect x="1227.99" y="1298.28" width="1.07" height="1.07" fill="#000"/>
<rect x="1239.71" y="1290.48" width="1.07" height="1.07" fill="#000"/>
<rect x="1229.06" y="1363.76" width="1.51" height="1.51" fill="#000"/>
<rect x="1226.26" y="1362.61" width="0.83" height="0.83" fill="#000"/>
<rect x="1235.3" y="1364.54" width="1.58" height="1.58" fill="#000"/>
<rect x="1246.47" y="1315.14" width="0.93" height="0.93" fill="#000"/>
<rect x="1243.42" y="1285.62" width="0.94" height="0.94" fill="#000"/>
<rect x="1235.43" y="1279.05" width="1.15" height="1.15" fill="#000"/>
<rect x="1248.31" y="1338.41" width="1.26" height="1.26" fill="#000"/>
<rect x="1243.24" y="1317.7" width="0.87" height="0.87" fill="#000"/>
<rect x="1242.32" y="1312.42" width="1.52" height="1.52" fill="#000"/>
<rect x="1252.06" y="1314.7" width="1.34" height="1.34" fill="#000"/>
<rect x="1246.97" y="1313.9" width="0.97" height="0.97" fill="#000"/>
<rect x="1246.11" y="1355.21" width="1.56" height="1.56" fill="#000"/>
<rect x="1245.4" y="1352.72" width="1.45" height="1.45" fill="#000"/>
<rect x="1243.53" y="1316.85" width="1.06" height="1.06" fill="#000"/>
<polygon points="1242.34,1285.22 1244.34,1288.72 1240.34,1288.72" fill="none" stroke="#000" stroke-width="0.8"/>
<polygon points="1236.91,1342.72 1238.91,1346.22 1234.91,1346.22" fill="none" stroke="#000" stroke-width="0.8"/>
<line x1="1116.5" y1="1230.2" x2="1116.5" y2="1387.8" stroke="#000" stroke-width="1.1"/>
<line x1="1116.5" y1="1368.7" x2="1162.4" y2="1368.7" stroke="#000" stroke-width="1.1"/>
<text class="t" x="1016.8" y="1287.5" font-size="13.76" font-weight="bold" textLength="47.2" lengthAdjust="spacingAndGlyphs">RCC SLAB</text>
<text class="t" x="1016.8" y="1303.7" font-size="13.76" font-weight="bold" textLength="94" lengthAdjust="spacingAndGlyphs">AS PER STRUCTURE</text>
<line x1="1072.6" y1="1282.7" x2="1168" y2="1282.7" stroke="#000" stroke-width="1.1"/>
<polygon points="1168,1282.7 1161,1284.9 1161,1280.5" fill="#000" stroke="none"/>
<text class="t" x="1015.3" y="1327.6" font-size="16.2" font-weight="bold" textLength="150.9" lengthAdjust="spacingAndGlyphs">12 mm THICK CEMENT PLASTER</text>
<line x1="1169" y1="1322.8" x2="1218.7" y2="1322.8" stroke="#000" stroke-width="1.1"/>
<polygon points="1218.7,1322.8 1211.7,1325 1211.7,1320.6" fill="#000" stroke="none"/>
<line x1="1000" y1="1372.1" x2="1023.9" y2="1372.1" stroke="#000" stroke-width="1.1"/>
<text class="t" x="1013" y="1448.9" font-size="32.86" font-weight="normal" textLength="104.5" lengthAdjust="spacingAndGlyphs">DETAIL-5</text>
<line x1="1011.5" y1="1456.5" x2="1118.8" y2="1456.5" stroke="#000" stroke-width="1.5"/>
<line x1="1257" y1="1299.6" x2="1381.8" y2="1299.6" stroke="#000" stroke-width="1.1"/>
<polygon points="1254,1299.6 1247,1301.8 1247,1297.4" fill="#000" stroke="none"/>
<line x1="1116.5" y1="1262.1" x2="1406" y2="1262.1" stroke="#000" stroke-width="1.1" stroke-dasharray="14 4"/>
<text class="t" x="1382.7" y="1303.5" font-size="13.76" font-weight="bold" textLength="94" lengthAdjust="spacingAndGlyphs">230X600 RCC BEAM</text>
<text class="t" x="1382.7" y="1319.4" font-size="13.76" font-weight="bold" textLength="93.1" lengthAdjust="spacingAndGlyphs">AS PER STRUCTURE</text>
<text class="t" x="1373.2" y="1237.1" font-size="16" font-weight="normal" textLength="92.3" lengthAdjust="spacingAndGlyphs">SECOND FLOOR</text>
<line x1="1358.5" y1="1240.5" x2="1456" y2="1240.5" stroke="#000" stroke-width="1.1"/>
<text class="t" x="1373.2" y="1257" font-size="16.14" font-weight="normal" textLength="66.4" lengthAdjust="spacingAndGlyphs">LVL.+9150</text>
<line x1="1364.5" y1="1234.5" x2="1364.5" y2="1261.3" stroke="#000" stroke-width="1.1"/>
<polygon points="1364.5,1262 1357.5,1253.95 1371.5,1253.95" fill="#000" stroke="none"/>
<text class="t" x="1359" y="1390.3" font-size="13.91" font-weight="bold" textLength="149.6" lengthAdjust="spacingAndGlyphs">ALUMINIUM COMPOSITE PANEL</text>
<text class="t" x="1359" y="1406.5" font-size="13.91" font-weight="bold" textLength="135.8" lengthAdjust="spacingAndGlyphs">OF APPROVED MAKE/ SHADE</text>
<text class="t" x="1359" y="1422.6" font-size="13.91" font-weight="bold" textLength="98.7" lengthAdjust="spacingAndGlyphs">FIXED AS PER SPECS</text>
<polyline points="1358.5,1391.2 1300.7,1391.2 1300.7,1361.3" fill="none" stroke="#000" stroke-width="1.1" stroke-linejoin="miter"/>
<polygon points="1300.7,1361.3 1302.9,1368.3 1298.5,1368.3" fill="#000" stroke="none"/>
<rect x="1665.4" y="1113.4" width="313.4" height="352.5" fill="none" stroke="#000" stroke-width="1.1" stroke-dasharray="34 16"/>
<polygon points="1713.7,1113.4 1737.3,1113.4 1737.3,1185.4 1755.6,1185.4 1755.6,1200.5 1713.7,1200.5" fill="url(#h3)" stroke="#000" stroke-width="1"/>
<polygon points="1713.7,1465.9 1737.3,1465.9 1737.3,1393.9 1755.6,1393.9 1755.6,1378 1713.7,1378" fill="url(#h3)" stroke="#000" stroke-width="1"/>
<polyline points="1737.3,1113.4 1737.3,1185.4 1758,1185.4 1758,1393.9 1737.3,1393.9 1737.3,1465.9" fill="none" stroke="#000" stroke-width="3" stroke-linejoin="miter"/>
<polygon points="1751,1200.5 1755.6,1200.5 1755.6,1378 1751,1378" fill="url(#h3)" stroke="#000" stroke-width="0.8"/>
<line x1="1749.5" y1="1200.5" x2="1749.5" y2="1378" stroke="#000" stroke-width="1.1"/>
<text class="t" x="1739.8" y="1165.9" font-size="14.98" font-weight="bold" textLength="14.6" lengthAdjust="spacingAndGlyphs">130</text>
<line x1="1737.3" y1="1167" x2="1763" y2="1167" stroke="#000" stroke-width="1.1"/>
<line x1="1754.3" y1="1170" x2="1760.3" y2="1164" stroke="#000" stroke-width="1.4"/>
<line x1="1757.3" y1="1165.9" x2="1757.3" y2="1183" stroke="#000" stroke-width="1.1"/>
<text class="t" x="1739.8" y="1413.4" font-size="16.81" font-weight="bold" textLength="14.6" lengthAdjust="spacingAndGlyphs">130</text>
<line x1="1737.3" y1="1414.6" x2="1763" y2="1414.6" stroke="#000" stroke-width="1.1"/>
<line x1="1754.3" y1="1417.6" x2="1760.3" y2="1411.6" stroke="#000" stroke-width="1.4"/>
<line x1="1757.3" y1="1396" x2="1757.3" y2="1417" stroke="#000" stroke-width="1.1"/>
<line x1="1691" y1="1198.8" x2="1691" y2="1379.3" stroke="#000" stroke-width="1.1"/>
<line x1="1688" y1="1203.5" x2="1694" y2="1197.5" stroke="#000" stroke-width="1.4"/>
<line x1="1688" y1="1292" x2="1694" y2="1286" stroke="#000" stroke-width="1.4"/>
<line x1="1688" y1="1381" x2="1694" y2="1375" stroke="#000" stroke-width="1.4"/>
<line x1="1687.3" y1="1200.5" x2="1709.3" y2="1200.5" stroke="#000" stroke-width="1.1"/>
<line x1="1687.3" y1="1378" x2="1709.3" y2="1378" stroke="#000" stroke-width="1.1"/>
<text class="t" x="0" y="0" font-size="18.65" font-weight="bold" textLength="17.1" lengthAdjust="spacingAndGlyphs" transform="translate(1691,1253.7) rotate(-90)">550</text>
<text class="t" x="0" y="0" font-size="18.65" font-weight="bold" textLength="15.9" lengthAdjust="spacingAndGlyphs" transform="translate(1691,1341.5) rotate(-90)">550</text>
<line x1="1786.1" y1="1183" x2="1786.1" y2="1396.3" stroke="#000" stroke-width="1.1"/>
<line x1="1783.1" y1="1188.4" x2="1789.1" y2="1182.4" stroke="#000" stroke-width="1.4"/>
<line x1="1783.1" y1="1292" x2="1789.1" y2="1286" stroke="#000" stroke-width="1.4"/>
<line x1="1783.1" y1="1396.9" x2="1789.1" y2="1390.9" stroke="#000" stroke-width="1.4"/>
<line x1="1806.8" y1="1183" x2="1806.8" y2="1396.3" stroke="#000" stroke-width="1.1"/>
<line x1="1803.8" y1="1188.4" x2="1809.8" y2="1182.4" stroke="#000" stroke-width="1.4"/>
<line x1="1803.8" y1="1396.9" x2="1809.8" y2="1390.9" stroke="#000" stroke-width="1.4"/>
<line x1="1760.5" y1="1185.4" x2="1810.5" y2="1185.4" stroke="#000" stroke-width="1.1"/>
<line x1="1760.5" y1="1393.9" x2="1810.5" y2="1393.9" stroke="#000" stroke-width="1.1"/>
<text class="t" x="0" y="0" font-size="18.65" font-weight="bold" textLength="15.8" lengthAdjust="spacingAndGlyphs" transform="translate(1786.1,1245.1) rotate(-90)">660</text>
<text class="t" x="0" y="0" font-size="18.65" font-weight="bold" textLength="15.9" lengthAdjust="spacingAndGlyphs" transform="translate(1786.1,1348.8) rotate(-90)">660</text>
<text class="t" x="0" y="0" font-size="18.65" font-weight="bold" textLength="20.7" lengthAdjust="spacingAndGlyphs" transform="translate(1806.8,1320.7) rotate(-90)">1320</text>
<circle cx="1555.1" cy="1289.5" r="20.1" fill="none" stroke="#000" stroke-width="1.2"/>
<text class="t" x="1550.7" y="1298.8" font-size="27.97" font-weight="bold" textLength="9.8" lengthAdjust="spacingAndGlyphs">E</text>
<line x1="1575" y1="1289" x2="2024" y2="1289" stroke="#000" stroke-width="1.1" stroke-dasharray="31 4 6 4"/>
<circle cx="1898.3" cy="1182.4" r="20.7" fill="none" stroke="#000" stroke-width="1.2"/>
<text class="t" x="1888.5" y="1191.5" font-size="27.97" font-weight="bold" textLength="20.8" lengthAdjust="spacingAndGlyphs">10</text>
<line x1="1898.3" y1="1202.4" x2="1898.3" y2="1498" stroke="#000" stroke-width="1.1" stroke-dasharray="31 4 6 4"/>
<rect x="1879.2" y="1241.1" width="96.5" height="96.5" fill="#000"/>
<rect x="1881.8" y="1244" width="91.3" height="91" fill="url(#diam)"/>
<text class="t" x="1484.9" y="1151.2" font-size="14.83" font-weight="bold" textLength="106.1" lengthAdjust="spacingAndGlyphs">STRUCTURAL GLAZING</text>
<text class="t" x="1484.9" y="1167" font-size="14.83" font-weight="bold" textLength="142.7" lengthAdjust="spacingAndGlyphs">OF APPROVED MAKE/ COLOUR</text>
<text class="t" x="1484.9" y="1182.9" font-size="14.83" font-weight="bold" textLength="98.8" lengthAdjust="spacingAndGlyphs">FIXED AS PER SPECS</text>
<line x1="1592.2" y1="1145.6" x2="1717.8" y2="1145.6" stroke="#000" stroke-width="1.1"/>
<polygon points="1717.8,1145.6 1710.8,1147.8 1710.8,1143.4" fill="#000" stroke="none"/>
<text class="t" x="1486.1" y="1224.9" font-size="14.83" font-weight="bold" textLength="148.8" lengthAdjust="spacingAndGlyphs">ALUMINIUM COMPOSITE PANEL</text>
<text class="t" x="1486.1" y="1241" font-size="14.83" font-weight="bold" textLength="135.4" lengthAdjust="spacingAndGlyphs">OF APPROVED MAKE/ SHADE</text>
<text class="t" x="1486.1" y="1256.6" font-size="14.83" font-weight="bold" textLength="98.8" lengthAdjust="spacingAndGlyphs">FIXED AS PER SPECS</text>
<line x1="1638.5" y1="1221.2" x2="1750.7" y2="1221.2" stroke="#000" stroke-width="1.1"/>
<polygon points="1750.7,1221.2 1743.7,1223.4 1743.7,1219" fill="#000" stroke="none"/>
<text class="t" x="1486.1" y="1457.3" font-size="14.83" font-weight="bold" textLength="70.7" lengthAdjust="spacingAndGlyphs">RCC SLAB LINE</text>
<line x1="1561.7" y1="1453.2" x2="1733.7" y2="1453.2" stroke="#000" stroke-width="1.1"/>
<polygon points="1733.7,1453.2 1726.7,1455.4 1726.7,1451" fill="#000" stroke="none"/>
<text class="t" x="1541" y="1414.6" font-size="32.86" font-weight="normal" textLength="106.1" lengthAdjust="spacingAndGlyphs">DETAIL-B</text>
<line x1="1539.8" y1="1422.4" x2="1648.3" y2="1422.4" stroke="#000" stroke-width="1.5"/>
<rect x="291.1" y="1504" width="7.8" height="17" fill="#fff"/>
<circle cx="295" cy="1533.8" r="12.6" fill="none" stroke="#fff" stroke-width="2.6"/>
<polygon points="283.7,1545.4 289.2,1548.7 272.6,1584.3 268.2,1583.6" fill="#fff" stroke="none"/>
<rect x="269.3" y="1583" width="1.6" height="9" fill="#fff"/>
<polygon points="301.8,1546.8 306.3,1544.2 321.6,1576.6 316.7,1579.1" fill="#fff" stroke="none"/>
<rect x="316.7" y="1574.5" width="8.5" height="4.5" fill="#fff"/>
<rect x="317.5" y="1579" width="4.5" height="6" fill="#fff"/>
<rect x="318.7" y="1587.8" width="1.2" height="5" fill="#fff"/>
<rect x="239" y="1591.8" width="2" height="1.6" fill="#fff"/>
<rect x="243" y="1591.8" width="10" height="1.6" fill="#fff"/>
<rect x="255.2" y="1591.8" width="61.5" height="1.6" fill="#fff"/>
<rect x="326" y="1591.8" width="29.2" height="1.6" fill="#fff"/>
<rect x="253.5" y="1583.5" width="2" height="2.5" fill="#fff"/>
<rect x="278.5" y="1543" width="1.3" height="1.3" fill="#fff"/>
<rect x="301.3" y="1537.5" width="1.8" height="1.5" fill="#fff"/>
<rect x="331.7" y="1544.5" width="1.5" height="1.5" fill="#fff"/>
<rect x="322.5" y="1555" width="1.7" height="1.7" fill="#fff"/>
<rect x="346" y="1553.5" width="2.5" height="1.5" fill="#fff"/>
<rect x="291.5" y="1564" width="1.8" height="1" fill="#fff"/>
<path d="M382,1596h1v20h-1zM385,1596h1v20h-1zM389,1596h1v20h-1zM391,1596h1v20h-1zM392,1596h1v20h-1zM396,1596h4v20h-4zM406,1596h1v20h-1zM411,1596h1v20h-1zM413,1596h1v20h-1zM415,1596h3v20h-3zM419,1596h1v20h-1zM422,1596h1v20h-1zM425,1596h2v20h-2zM433,1596h1v20h-1zM436,1596h1v20h-1zM439,1596h2v20h-2zM444,1596h4v20h-4zM449,1596h1v20h-1zM452,1596h2v20h-2zM456,1596h2v20h-2zM459,1596h2v20h-2zM462,1596h4v20h-4zM467,1596h2v20h-2zM470,1596h5v20h-5zM477,1596h1v20h-1zM479,1596h1v20h-1zM482,1596h3v20h-3zM485,1596h2v20h-2zM489,1596h1v20h-1zM492,1596h2v20h-2zM495,1596h1v20h-1zM499,1596h1v20h-1zM505,1596h1v20h-1zM508,1596h1v20h-1zM512,1596h4v20h-4zM519,1596h1v20h-1zM521,1596h1v20h-1zM523,1596h3v20h-3zM531,1596h3v20h-3zM536,1596h1v20h-1zM538,1596h2v20h-2zM545,1596h1v20h-1zM548,1596h1v20h-1zM554,1596h1v20h-1zM561,1596h1v20h-1zM563,1596h2v20h-2zM569,1596h4v20h-4zM574,1596h3v20h-3zM586,1596h1v20h-1zM593,1596h1v20h-1zM599,1596h1v20h-1zM600,1596h1v20h-1zM602,1596h1v20h-1zM605,1596h2v20h-2zM611,1596h1v20h-1zM613,1596h1v20h-1zM614,1596h2v20h-2zM617,1596h1v20h-1zM625,1596h1v20h-1zM629,1596h4v20h-4zM635,1596h1v20h-1zM642,1596h2v20h-2zM651,1596h1v20h-1zM654,1596h4v20h-4zM665,1596h4v20h-4zM673,1596h1v20h-1zM676,1596h1v20h-1zM684,1596h3v20h-3zM688,1596h1v20h-1zM691,1596h1v20h-1zM695,1596h1v20h-1zM699,1596h4v20h-4zM707,1596h3v20h-3zM714,1596h4v20h-4zM720,1596h2v20h-2zM724,1596h1v20h-1zM727,1596h4v20h-4zM733,1596h2v20h-2zM739,1596h2v20h-2zM745,1596h3v20h-3zM751,1596h3v20h-3zM756,1596h2v20h-2zM759,1596h2v20h-2zM763,1596h2v20h-2zM772,1596h1v20h-1zM775,1596h2v20h-2zM780,1596h1v20h-1zM783,1596h4v20h-4zM793,1596h1v20h-1zM797,1596h1v20h-1zM802,1596h1v20h-1zM804,1596h2v20h-2zM810,1596h3v20h-3zM815,1596h1v20h-1zM817,1596h3v20h-3zM823,1596h2v20h-2zM832,1596h1v20h-1zM834,1596h2v20h-2zM837,1596h1v20h-1zM840,1596h1v20h-1zM843,1596h3v20h-3zM849,1596h2v20h-2zM853,1596h1v20h-1zM857,1596h2v20h-2zM862,1596h1v20h-1zM867,1596h3v20h-3zM876,1596h3v20h-3zM886,1596h1v20h-1zM894,1596h2v20h-2zM900,1596h1v20h-1zM904,1596h3v20h-3zM910,1596h2v20h-2zM919,1596h2v20h-2zM922,1596h3v20h-3zM928,1596h1v20h-1zM933,1596h1v20h-1zM935,1596h2v20h-2zM943,1596h2v20h-2zM948,1596h2v20h-2zM956,1596h1v20h-1zM958,1596h1v20h-1zM962,1596h2v20h-2zM970,1596h2v20h-2zM975,1596h1v20h-1zM979,1596h1v20h-1zM983,1596h2v20h-2zM988,1596h2v20h-2zM994,1596h1v20h-1zM996,1596h1v20h-1zM1000,1596h1v20h-1zM1004,1596h1v20h-1zM1008,1596h1v20h-1zM1013,1596h1v20h-1zM1016,1596h2v20h-2zM1021,1596h1v20h-1zM1028,1596h1v20h-1zM1031,1596h2v20h-2zM1035,1596h4v20h-4zM1042,1596h1v20h-1zM1045,1596h1v20h-1zM1053,1596h1v20h-1zM1057,1596h1v20h-1zM1061,1596h2v20h-2zM1065,1596h2v20h-2zM1069,1596h3v20h-3zM1075,1596h2v20h-2zM1083,1596h2v20h-2zM1089,1596h2v20h-2zM1095,1596h3v20h-3zM1099,1596h3v20h-3zM1104,1596h1v20h-1zM1106,1596h4v20h-4zM1117,1596h3v20h-3zM1127,1596h1v20h-1zM1129,1596h4v20h-4zM1140,1596h2v20h-2zM1149,1596h2v20h-2zM1153,1596h1v20h-1zM1157,1596h1v20h-1zM1160,1596h1v20h-1zM1162,1596h1v20h-1zM1167,1596h1v20h-1zM1169,1596h4v20h-4zM1175,1596h1v20h-1zM1183,1596h2v20h-2zM1187,1596h1v20h-1zM1195,1596h3v20h-3zM1199,1596h1v20h-1zM1203,1596h1v20h-1zM1207,1596h4v20h-4zM1212,1596h2v20h-2zM1216,1596h1v20h-1zM1219,1596h1v20h-1zM1222,1596h1v20h-1zM1226,1596h1v20h-1zM1228,1596h4v20h-4zM1236,1596h1v20h-1zM1240,1596h1v20h-1zM1244,1596h3v20h-3zM1248,1596h4v20h-4zM1255,1596h1v20h-1zM1257,1596h1v20h-1zM1259,1596h1v20h-1zM1261,1596h1v20h-1zM1268,1596h1v20h-1zM1271,1596h4v20h-4zM1278,1596h1v20h-1zM1282,1596h1v20h-1zM1286,1596h3v20h-3zM1293,1596h2v20h-2zM1298,1596h2v20h-2zM1302,1596h2v20h-2zM1308,1596h1v20h-1zM1311,1596h1v20h-1zM1316,1596h1v20h-1zM1319,1596h1v20h-1zM1323,1596h4v20h-4zM1334,1596h3v20h-3zM1338,1596h3v20h-3zM1342,1596h2v20h-2zM1350,1596h2v20h-2zM1356,1596h3v20h-3zM1365,1596h1v20h-1zM1368,1596h1v20h-1zM1376,1596h2v20h-2zM1380,1596h3v20h-3zM1385,1596h3v20h-3zM1390,1596h1v20h-1zM1394,1596h2v20h-2zM1403,1596h2v20h-2zM1407,1596h4v20h-4zM1413,1596h3v20h-3zM1418,1596h2v20h-2zM1427,1596h1v20h-1zM1429,1596h4v20h-4zM182,1596h1v20h-1zM186,1596h1v20h-1zM188,1596h1v20h-1zM192,1596h1v20h-1zM194,1596h2v20h-2zM197,1596h1v20h-1zM199,1596h3v20h-3zM204,1596h2v20h-2zM207,1596h1v20h-1zM210,1596h1v20h-1zM212,1596h1v20h-1z" fill="#000" shape-rendering="crispEdges"/>
</g>
</svg>
</body></html>
